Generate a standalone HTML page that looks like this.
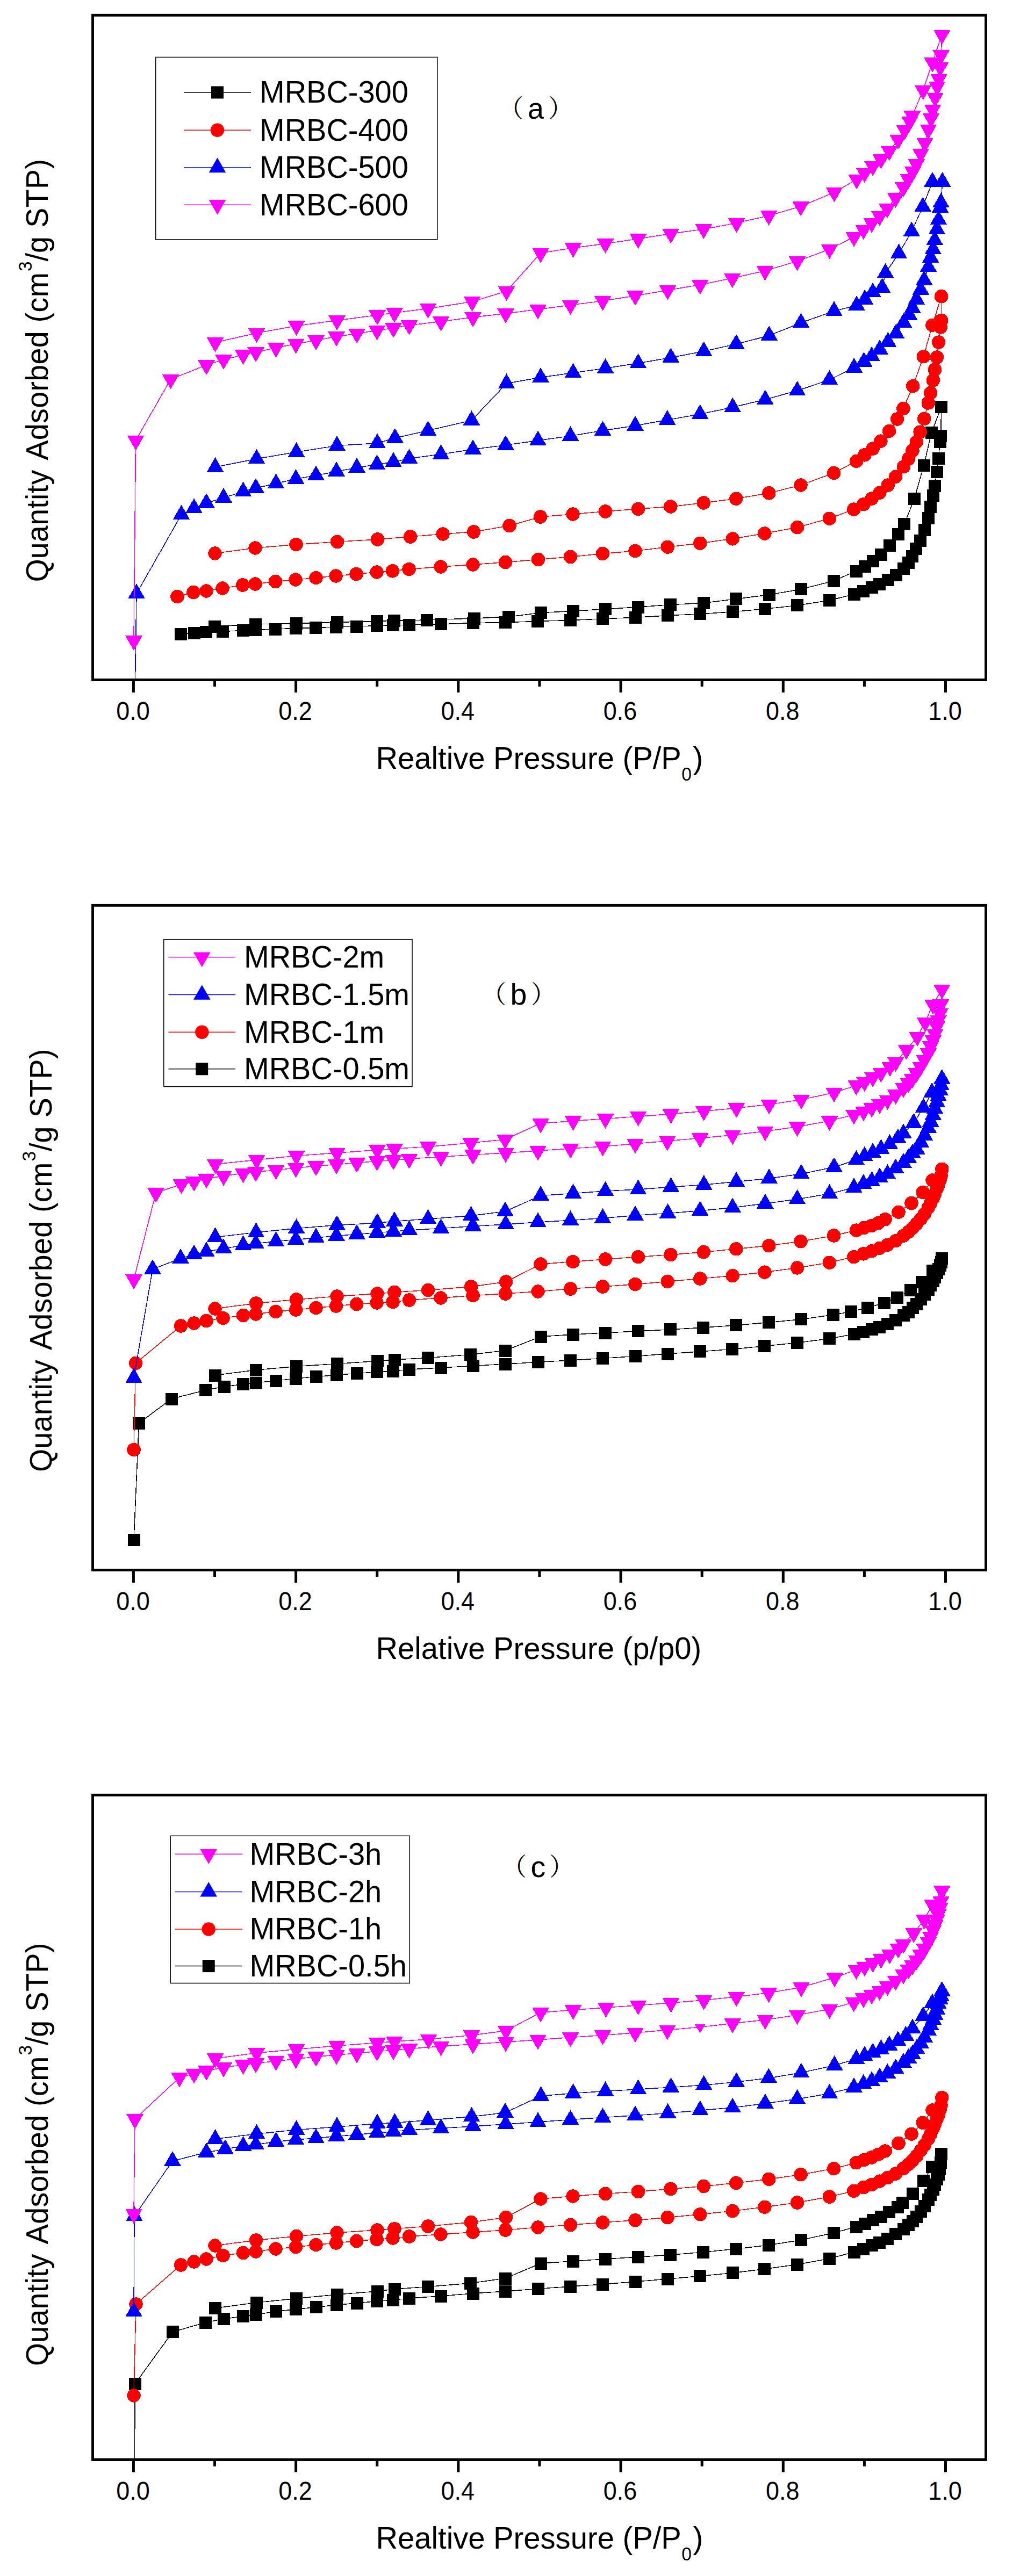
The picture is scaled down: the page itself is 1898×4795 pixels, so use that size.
<!DOCTYPE html>
<html lang="en"><head><meta charset="utf-8"><title>N2 adsorption-desorption isotherms</title>
<style>html,body{margin:0;padding:0;background:#fff}svg{display:block}</style></head>
<body>
<svg width="1898" height="4795" viewBox="0 0 1898 4795">
<rect width="1898" height="4795" fill="#fff"/>
<clipPath id="clip1"><rect x="172.5" y="28.3" width="1662.0" height="1237.2"/></clipPath>
<g clip-path="url(#clip1)" shape-rendering="crispEdges">
<g fill="#000000" stroke="none">
<path d="M336 1180L361 1178L383.5 1176.5L414 1175.5L452 1173.5L475 1172.5L512 1171L550 1169.5L587.5 1168.5L625 1167L663 1166L701 1164.7L731 1163.8L761 1163L820 1161.8L880 1159.6L940.7 1158.7L1000.7 1156.4L1061.2 1154.6L1121.1 1151.9L1182 1149.3L1242.2 1145.8L1302.7 1142.9L1363.2 1138.8L1423.4 1133.5L1483.5 1126.9L1543.6 1117.5L1589.7 1106L1606.8 1100.2L1622.1 1093.8L1636.9 1087.2L1652.2 1079.8L1667.5 1070.1L1681.5 1058.6L1690.4 1047.2L1697.5 1035.7L1704.9 1021.7L1712.8 1006.4L1720.5 986L1727.4 964.3L1731.7 943.2L1736.3 922.3L1739.3 904.4L1743.2 878.2L1746 853.9L1749.5 822.8L1750.8 811.4L1751.6 757.3" fill="none" stroke="#000000" stroke-width="1.5"/>
<path d="M1751.6 757.3L1733.2 805.8L1719.2 866.2L1701.4 928.6L1682.7 975L1671.3 994.4L1655.5 1015.3L1639.4 1032.6L1624.6 1044.1L1609.3 1054L1593 1063L1551 1081.4L1490.5 1096.8L1431.2 1107.1L1369.8 1114.9L1309.3 1122.4L1247.9 1125.6L1187.4 1130L1126.6 1133.8L1066.6 1137.4L1006 1140.6L946 1148.2L882 1151L794 1154L733 1155.2L701.5 1156.5L627 1158.3L551 1160.6L475 1162L399 1166" fill="none" stroke="#000000" stroke-width="1.5"/>
<rect x="324.5" y="1168.5" width="23.0" height="23.0"/>
<rect x="349.5" y="1166.5" width="23.0" height="23.0"/>
<rect x="372" y="1165" width="23.0" height="23.0"/>
<rect x="402.5" y="1164" width="23.0" height="23.0"/>
<rect x="440.5" y="1162" width="23.0" height="23.0"/>
<rect x="463.5" y="1161" width="23.0" height="23.0"/>
<rect x="500.5" y="1159.5" width="23.0" height="23.0"/>
<rect x="538.5" y="1158" width="23.0" height="23.0"/>
<rect x="576" y="1157" width="23.0" height="23.0"/>
<rect x="613.5" y="1155.5" width="23.0" height="23.0"/>
<rect x="651.5" y="1154.5" width="23.0" height="23.0"/>
<rect x="689.5" y="1153.2" width="23.0" height="23.0"/>
<rect x="719.5" y="1152.3" width="23.0" height="23.0"/>
<rect x="749.5" y="1151.5" width="23.0" height="23.0"/>
<rect x="808.5" y="1150.3" width="23.0" height="23.0"/>
<rect x="868.5" y="1148.1" width="23.0" height="23.0"/>
<rect x="929.2" y="1147.2" width="23.0" height="23.0"/>
<rect x="989.2" y="1144.9" width="23.0" height="23.0"/>
<rect x="1049.7" y="1143.1" width="23.0" height="23.0"/>
<rect x="1109.6" y="1140.4" width="23.0" height="23.0"/>
<rect x="1170.5" y="1137.8" width="23.0" height="23.0"/>
<rect x="1230.7" y="1134.3" width="23.0" height="23.0"/>
<rect x="1291.2" y="1131.4" width="23.0" height="23.0"/>
<rect x="1351.7" y="1127.3" width="23.0" height="23.0"/>
<rect x="1411.9" y="1122" width="23.0" height="23.0"/>
<rect x="1472" y="1115.4" width="23.0" height="23.0"/>
<rect x="1532.1" y="1106" width="23.0" height="23.0"/>
<rect x="1578.2" y="1094.5" width="23.0" height="23.0"/>
<rect x="1595.3" y="1088.7" width="23.0" height="23.0"/>
<rect x="1610.6" y="1082.3" width="23.0" height="23.0"/>
<rect x="1625.4" y="1075.7" width="23.0" height="23.0"/>
<rect x="1640.7" y="1068.3" width="23.0" height="23.0"/>
<rect x="1656" y="1058.6" width="23.0" height="23.0"/>
<rect x="1670" y="1047.1" width="23.0" height="23.0"/>
<rect x="1678.9" y="1035.7" width="23.0" height="23.0"/>
<rect x="1686" y="1024.2" width="23.0" height="23.0"/>
<rect x="1693.4" y="1010.2" width="23.0" height="23.0"/>
<rect x="1701.3" y="994.9" width="23.0" height="23.0"/>
<rect x="1709" y="974.5" width="23.0" height="23.0"/>
<rect x="1715.9" y="952.8" width="23.0" height="23.0"/>
<rect x="1720.2" y="931.7" width="23.0" height="23.0"/>
<rect x="1724.8" y="910.8" width="23.0" height="23.0"/>
<rect x="1727.8" y="892.9" width="23.0" height="23.0"/>
<rect x="1731.7" y="866.7" width="23.0" height="23.0"/>
<rect x="1734.5" y="842.4" width="23.0" height="23.0"/>
<rect x="1738" y="811.3" width="23.0" height="23.0"/>
<rect x="1739.3" y="799.9" width="23.0" height="23.0"/>
<rect x="1740.1" y="745.8" width="23.0" height="23.0"/>
<rect x="1740.1" y="745.8" width="23.0" height="23.0"/>
<rect x="1721.7" y="794.3" width="23.0" height="23.0"/>
<rect x="1707.7" y="854.7" width="23.0" height="23.0"/>
<rect x="1689.9" y="917.1" width="23.0" height="23.0"/>
<rect x="1671.2" y="963.5" width="23.0" height="23.0"/>
<rect x="1659.8" y="982.9" width="23.0" height="23.0"/>
<rect x="1644" y="1003.8" width="23.0" height="23.0"/>
<rect x="1627.9" y="1021.1" width="23.0" height="23.0"/>
<rect x="1613.1" y="1032.6" width="23.0" height="23.0"/>
<rect x="1597.8" y="1042.5" width="23.0" height="23.0"/>
<rect x="1581.5" y="1051.5" width="23.0" height="23.0"/>
<rect x="1539.5" y="1069.9" width="23.0" height="23.0"/>
<rect x="1479" y="1085.3" width="23.0" height="23.0"/>
<rect x="1419.7" y="1095.6" width="23.0" height="23.0"/>
<rect x="1358.3" y="1103.4" width="23.0" height="23.0"/>
<rect x="1297.8" y="1110.9" width="23.0" height="23.0"/>
<rect x="1236.4" y="1114.1" width="23.0" height="23.0"/>
<rect x="1175.9" y="1118.5" width="23.0" height="23.0"/>
<rect x="1115.1" y="1122.3" width="23.0" height="23.0"/>
<rect x="1055.1" y="1125.9" width="23.0" height="23.0"/>
<rect x="994.5" y="1129.1" width="23.0" height="23.0"/>
<rect x="934.5" y="1136.7" width="23.0" height="23.0"/>
<rect x="870.5" y="1139.5" width="23.0" height="23.0"/>
<rect x="782.5" y="1142.5" width="23.0" height="23.0"/>
<rect x="721.5" y="1143.7" width="23.0" height="23.0"/>
<rect x="690" y="1145" width="23.0" height="23.0"/>
<rect x="615.5" y="1146.8" width="23.0" height="23.0"/>
<rect x="539.5" y="1149.1" width="23.0" height="23.0"/>
<rect x="463.5" y="1150.5" width="23.0" height="23.0"/>
<rect x="387.5" y="1154.5" width="23.0" height="23.0"/>
</g>
<g fill="#ff0000" stroke="none">
<path d="M330 1110.5L360 1102.5L384 1100L414 1095L451.5 1089L475 1087L512.5 1082.5L550 1079L588 1075.5L625 1072L663 1068.5L701 1065L730.5 1062.8L761 1059.5L820 1055L880 1051L940.5 1046.5L1001.5 1041.5L1061.5 1036.5L1121.5 1030.5L1182 1025.5L1242.2 1018.2L1302.7 1011.2L1363.2 1002.9L1422.9 993L1483.5 981.6L1543.3 965.2L1588.7 948.1L1606.8 938.8L1622.1 928.1L1636.9 917.2L1652.2 903.1L1666.7 887.3L1681.5 868.7L1690.4 854.2L1698 838.7L1705.2 822.7L1712.1 804.1L1719.7 779.4L1727.4 750L1731.7 731.4L1736.3 707.9L1739.6 688L1743.4 665.1L1746.5 637.1L1750.3 609L1751.6 596.3L1751.6 551.7" fill="none" stroke="#ff0000" stroke-width="1.5"/>
<path d="M1751.6 551.7L1735 605.2L1718.4 663.8L1698.8 718.6L1681 760.3L1669.5 780L1654.7 802.4L1638.9 821.1L1624.1 835.1L1608.8 846.9L1593.6 858.4L1551.6 880.5L1490 903L1430.8 917.9L1369.8 928.2L1309.3 936L1247.9 943L1187.5 947.3L1126.5 952L1066 957L1005.5 962L948 978.5L881.5 990L824 994L763.5 999L702.5 1004L627.5 1008.5L551 1013.5L475 1020L400 1030" fill="none" stroke="#ff0000" stroke-width="1.5"/>
<circle cx="330" cy="1110.5" r="12.7"/>
<circle cx="360" cy="1102.5" r="12.7"/>
<circle cx="384" cy="1100" r="12.7"/>
<circle cx="414" cy="1095" r="12.7"/>
<circle cx="451.5" cy="1089" r="12.7"/>
<circle cx="475" cy="1087" r="12.7"/>
<circle cx="512.5" cy="1082.5" r="12.7"/>
<circle cx="550" cy="1079" r="12.7"/>
<circle cx="588" cy="1075.5" r="12.7"/>
<circle cx="625" cy="1072" r="12.7"/>
<circle cx="663" cy="1068.5" r="12.7"/>
<circle cx="701" cy="1065" r="12.7"/>
<circle cx="730.5" cy="1062.8" r="12.7"/>
<circle cx="761" cy="1059.5" r="12.7"/>
<circle cx="820" cy="1055" r="12.7"/>
<circle cx="880" cy="1051" r="12.7"/>
<circle cx="940.5" cy="1046.5" r="12.7"/>
<circle cx="1001.5" cy="1041.5" r="12.7"/>
<circle cx="1061.5" cy="1036.5" r="12.7"/>
<circle cx="1121.5" cy="1030.5" r="12.7"/>
<circle cx="1182" cy="1025.5" r="12.7"/>
<circle cx="1242.2" cy="1018.2" r="12.7"/>
<circle cx="1302.7" cy="1011.2" r="12.7"/>
<circle cx="1363.2" cy="1002.9" r="12.7"/>
<circle cx="1422.9" cy="993" r="12.7"/>
<circle cx="1483.5" cy="981.6" r="12.7"/>
<circle cx="1543.3" cy="965.2" r="12.7"/>
<circle cx="1588.7" cy="948.1" r="12.7"/>
<circle cx="1606.8" cy="938.8" r="12.7"/>
<circle cx="1622.1" cy="928.1" r="12.7"/>
<circle cx="1636.9" cy="917.2" r="12.7"/>
<circle cx="1652.2" cy="903.1" r="12.7"/>
<circle cx="1666.7" cy="887.3" r="12.7"/>
<circle cx="1681.5" cy="868.7" r="12.7"/>
<circle cx="1690.4" cy="854.2" r="12.7"/>
<circle cx="1698" cy="838.7" r="12.7"/>
<circle cx="1705.2" cy="822.7" r="12.7"/>
<circle cx="1712.1" cy="804.1" r="12.7"/>
<circle cx="1719.7" cy="779.4" r="12.7"/>
<circle cx="1727.4" cy="750" r="12.7"/>
<circle cx="1731.7" cy="731.4" r="12.7"/>
<circle cx="1736.3" cy="707.9" r="12.7"/>
<circle cx="1739.6" cy="688" r="12.7"/>
<circle cx="1743.4" cy="665.1" r="12.7"/>
<circle cx="1746.5" cy="637.1" r="12.7"/>
<circle cx="1750.3" cy="609" r="12.7"/>
<circle cx="1751.6" cy="596.3" r="12.7"/>
<circle cx="1751.6" cy="551.7" r="12.7"/>
<circle cx="1751.6" cy="551.7" r="12.7"/>
<circle cx="1735" cy="605.2" r="12.7"/>
<circle cx="1718.4" cy="663.8" r="12.7"/>
<circle cx="1698.8" cy="718.6" r="12.7"/>
<circle cx="1681" cy="760.3" r="12.7"/>
<circle cx="1669.5" cy="780" r="12.7"/>
<circle cx="1654.7" cy="802.4" r="12.7"/>
<circle cx="1638.9" cy="821.1" r="12.7"/>
<circle cx="1624.1" cy="835.1" r="12.7"/>
<circle cx="1608.8" cy="846.9" r="12.7"/>
<circle cx="1593.6" cy="858.4" r="12.7"/>
<circle cx="1551.6" cy="880.5" r="12.7"/>
<circle cx="1490" cy="903" r="12.7"/>
<circle cx="1430.8" cy="917.9" r="12.7"/>
<circle cx="1369.8" cy="928.2" r="12.7"/>
<circle cx="1309.3" cy="936" r="12.7"/>
<circle cx="1247.9" cy="943" r="12.7"/>
<circle cx="1187.5" cy="947.3" r="12.7"/>
<circle cx="1126.5" cy="952" r="12.7"/>
<circle cx="1066" cy="957" r="12.7"/>
<circle cx="1005.5" cy="962" r="12.7"/>
<circle cx="948" cy="978.5" r="12.7"/>
<circle cx="881.5" cy="990" r="12.7"/>
<circle cx="824" cy="994" r="12.7"/>
<circle cx="763.5" cy="999" r="12.7"/>
<circle cx="702.5" cy="1004" r="12.7"/>
<circle cx="627.5" cy="1008.5" r="12.7"/>
<circle cx="551" cy="1013.5" r="12.7"/>
<circle cx="475" cy="1020" r="12.7"/>
<circle cx="400" cy="1030" r="12.7"/>
</g>
<g fill="#0000ff" stroke="none">
<path d="M251 1300L254 1105L337.5 958L361 946L384 936.5L416 926.5L452.5 915L476 908.5L513.5 900L550.5 891.5L588 885L626 877.5L664 870.5L701.5 864.5L732 860L761.5 853.5L820.5 845.5L880 836.5L941 828.5L1001 820L1061.5 811.5L1121.5 801.5L1182 792.4L1241.8 781.6L1302.7 770.9L1363.2 758.1L1423.8 743.7L1483.5 727.2L1543.5 706.9L1589.3 684.4L1607.5 673.3L1622.1 663.1L1636.9 650.3L1652.2 636.3L1667.5 620.5L1681.5 600.6L1691.7 586.6L1698 573.8L1705.2 557.3L1713.3 539.4L1719.7 521.6L1727.4 496.9L1731.7 479.5L1736.3 464.1L1739.3 447L1743.4 427.1L1746.5 409.2L1749.5 386.6L1751 377.2L1753.6 338.4" fill="none" stroke="#0000ff" stroke-width="1.5"/>
<path d="M1753.6 338.4L1735 338.4L1717.2 384.8L1696.3 430.9L1672.6 471.9L1647.6 508.1L1641.5 535.6L1624.1 544L1609.3 557.3L1594 568.7L1552 579L1490.5 600.8L1431.3 624.6L1370 640.5L1309.7 653.9L1248.4 665.5L1187.5 676.2L1126.5 685.5L1066.5 694L1006 702.5L942.5 713.8L877.5 782.5L796.5 801.5L735 815.3L702 825L627 829.5L551.5 841.5L477.5 854L400.5 869.5" fill="none" stroke="#0000ff" stroke-width="1.5"/>
<path d="M235.2 1309.2L266.8 1309.2L251 1281.6z"/>
<path d="M238.2 1114.2L269.8 1114.2L254 1086.6z"/>
<path d="M321.7 967.2L353.3 967.2L337.5 939.6z"/>
<path d="M345.2 955.2L376.8 955.2L361 927.6z"/>
<path d="M368.2 945.7L399.8 945.7L384 918.1z"/>
<path d="M400.2 935.7L431.8 935.7L416 908.1z"/>
<path d="M436.7 924.2L468.3 924.2L452.5 896.6z"/>
<path d="M460.2 917.7L491.8 917.7L476 890.1z"/>
<path d="M497.7 909.2L529.3 909.2L513.5 881.6z"/>
<path d="M534.7 900.7L566.3 900.7L550.5 873.1z"/>
<path d="M572.2 894.2L603.8 894.2L588 866.6z"/>
<path d="M610.2 886.7L641.8 886.7L626 859.1z"/>
<path d="M648.2 879.7L679.8 879.7L664 852.1z"/>
<path d="M685.7 873.7L717.3 873.7L701.5 846.1z"/>
<path d="M716.2 869.2L747.8 869.2L732 841.6z"/>
<path d="M745.7 862.7L777.3 862.7L761.5 835.1z"/>
<path d="M804.7 854.7L836.3 854.7L820.5 827.1z"/>
<path d="M864.2 845.7L895.8 845.7L880 818.1z"/>
<path d="M925.2 837.7L956.8 837.7L941 810.1z"/>
<path d="M985.2 829.2L1016.8 829.2L1001 801.6z"/>
<path d="M1045.7 820.7L1077.3 820.7L1061.5 793.1z"/>
<path d="M1105.7 810.7L1137.3 810.7L1121.5 783.1z"/>
<path d="M1166.2 801.6L1197.8 801.6L1182 774z"/>
<path d="M1226 790.8L1257.6 790.8L1241.8 763.2z"/>
<path d="M1286.9 780.1L1318.5 780.1L1302.7 752.5z"/>
<path d="M1347.4 767.3L1379 767.3L1363.2 739.7z"/>
<path d="M1408 752.9L1439.6 752.9L1423.8 725.3z"/>
<path d="M1467.7 736.4L1499.3 736.4L1483.5 708.8z"/>
<path d="M1527.7 716.1L1559.3 716.1L1543.5 688.5z"/>
<path d="M1573.5 693.6L1605.1 693.6L1589.3 666z"/>
<path d="M1591.7 682.5L1623.3 682.5L1607.5 654.9z"/>
<path d="M1606.3 672.3L1637.9 672.3L1622.1 644.7z"/>
<path d="M1621.1 659.5L1652.7 659.5L1636.9 631.9z"/>
<path d="M1636.4 645.5L1668 645.5L1652.2 617.9z"/>
<path d="M1651.7 629.7L1683.3 629.7L1667.5 602.1z"/>
<path d="M1665.7 609.8L1697.3 609.8L1681.5 582.2z"/>
<path d="M1675.9 595.8L1707.5 595.8L1691.7 568.2z"/>
<path d="M1682.2 583L1713.8 583L1698 555.4z"/>
<path d="M1689.4 566.5L1721 566.5L1705.2 538.9z"/>
<path d="M1697.5 548.6L1729.1 548.6L1713.3 521z"/>
<path d="M1703.9 530.8L1735.5 530.8L1719.7 503.2z"/>
<path d="M1711.6 506.1L1743.2 506.1L1727.4 478.5z"/>
<path d="M1715.9 488.7L1747.5 488.7L1731.7 461.1z"/>
<path d="M1720.5 473.3L1752.1 473.3L1736.3 445.7z"/>
<path d="M1723.5 456.2L1755.1 456.2L1739.3 428.6z"/>
<path d="M1727.6 436.3L1759.2 436.3L1743.4 408.7z"/>
<path d="M1730.7 418.4L1762.3 418.4L1746.5 390.8z"/>
<path d="M1733.7 395.8L1765.3 395.8L1749.5 368.2z"/>
<path d="M1735.2 386.4L1766.8 386.4L1751 358.8z"/>
<path d="M1737.8 347.6L1769.4 347.6L1753.6 320z"/>
<path d="M1737.8 347.6L1769.4 347.6L1753.6 320z"/>
<path d="M1719.2 347.6L1750.8 347.6L1735 320z"/>
<path d="M1701.4 394L1733 394L1717.2 366.4z"/>
<path d="M1680.5 440.1L1712.1 440.1L1696.3 412.5z"/>
<path d="M1656.8 481.1L1688.4 481.1L1672.6 453.5z"/>
<path d="M1631.8 517.3L1663.4 517.3L1647.6 489.7z"/>
<path d="M1625.7 544.8L1657.3 544.8L1641.5 517.2z"/>
<path d="M1608.3 553.2L1639.9 553.2L1624.1 525.6z"/>
<path d="M1593.5 566.5L1625.1 566.5L1609.3 538.9z"/>
<path d="M1578.2 577.9L1609.8 577.9L1594 550.3z"/>
<path d="M1536.2 588.2L1567.8 588.2L1552 560.6z"/>
<path d="M1474.7 610L1506.3 610L1490.5 582.4z"/>
<path d="M1415.5 633.8L1447.1 633.8L1431.3 606.2z"/>
<path d="M1354.2 649.7L1385.8 649.7L1370 622.1z"/>
<path d="M1293.9 663.1L1325.5 663.1L1309.7 635.5z"/>
<path d="M1232.6 674.7L1264.2 674.7L1248.4 647.1z"/>
<path d="M1171.7 685.4L1203.3 685.4L1187.5 657.8z"/>
<path d="M1110.7 694.7L1142.3 694.7L1126.5 667.1z"/>
<path d="M1050.7 703.2L1082.3 703.2L1066.5 675.6z"/>
<path d="M990.2 711.7L1021.8 711.7L1006 684.1z"/>
<path d="M926.7 723L958.3 723L942.5 695.4z"/>
<path d="M861.7 791.7L893.3 791.7L877.5 764.1z"/>
<path d="M780.7 810.7L812.3 810.7L796.5 783.1z"/>
<path d="M719.2 824.5L750.8 824.5L735 796.9z"/>
<path d="M686.2 834.2L717.8 834.2L702 806.6z"/>
<path d="M611.2 838.7L642.8 838.7L627 811.1z"/>
<path d="M535.7 850.7L567.3 850.7L551.5 823.1z"/>
<path d="M461.7 863.2L493.3 863.2L477.5 835.6z"/>
<path d="M384.7 878.7L416.3 878.7L400.5 851.1z"/>
</g>
<g fill="#ff00ff" stroke="none">
<path d="M249 1192.5L252.5 820L317.5 706L384 679.5L416 669.5L452.5 660.5L476 655.5L513.5 647.5L550.5 640L588 633.5L626 626.5L664 621L701.5 615L732 610.5L761.5 605.5L820.5 598.5L880 590.5L941 583.5L1001 576L1061.5 568L1121.5 560L1182 550.5L1242.4 540.2L1302.7 530L1362.7 517.8L1423.5 504.1L1483.5 486.1L1543.5 464L1589 441L1606.8 427.7L1622.1 415.2L1636.9 402.4L1650.9 388.1L1666.7 368.5L1681 348.6L1690.4 333.6L1698.6 319.3L1705.2 305.6L1713.3 285.7L1721 265.8L1727.4 241.1L1732.5 219.9L1735.5 204.1L1740.1 181.7L1743.9 160.8L1747 146.7L1749.5 125.1L1751.1 102.6L1752.8 64.7" fill="none" stroke="#ff00ff" stroke-width="1.5"/>
<path d="M1752.8 64.7L1735 116.2L1717.7 167.9L1697.5 215.6L1692.9 225.8L1683.5 242.3L1671.3 260.2L1654.7 281.1L1639.4 296.4L1624.1 309.4L1608.8 321.9L1594 333.8L1552.4 358L1490.2 384.1L1430.6 401.4L1370.6 415.1L1309.4 426.5L1248.2 435.1L1187.5 444.5L1126.5 453.5L1066.5 461.5L1006 471L942.5 542L878.5 561.5L796.5 574.5L734 582.3L702 586.5L627 596.5L551.5 606.5L477.5 620L400.5 637.5" fill="none" stroke="#ff00ff" stroke-width="1.5"/>
<path d="M233.2 1183.3L264.8 1183.3L249 1210.9z"/>
<path d="M236.7 810.8L268.3 810.8L252.5 838.4z"/>
<path d="M301.7 696.8L333.3 696.8L317.5 724.4z"/>
<path d="M368.2 670.3L399.8 670.3L384 697.9z"/>
<path d="M400.2 660.3L431.8 660.3L416 687.9z"/>
<path d="M436.7 651.3L468.3 651.3L452.5 678.9z"/>
<path d="M460.2 646.3L491.8 646.3L476 673.9z"/>
<path d="M497.7 638.3L529.3 638.3L513.5 665.9z"/>
<path d="M534.7 630.8L566.3 630.8L550.5 658.4z"/>
<path d="M572.2 624.3L603.8 624.3L588 651.9z"/>
<path d="M610.2 617.3L641.8 617.3L626 644.9z"/>
<path d="M648.2 611.8L679.8 611.8L664 639.4z"/>
<path d="M685.7 605.8L717.3 605.8L701.5 633.4z"/>
<path d="M716.2 601.3L747.8 601.3L732 628.9z"/>
<path d="M745.7 596.3L777.3 596.3L761.5 623.9z"/>
<path d="M804.7 589.3L836.3 589.3L820.5 616.9z"/>
<path d="M864.2 581.3L895.8 581.3L880 608.9z"/>
<path d="M925.2 574.3L956.8 574.3L941 601.9z"/>
<path d="M985.2 566.8L1016.8 566.8L1001 594.4z"/>
<path d="M1045.7 558.8L1077.3 558.8L1061.5 586.4z"/>
<path d="M1105.7 550.8L1137.3 550.8L1121.5 578.4z"/>
<path d="M1166.2 541.3L1197.8 541.3L1182 568.9z"/>
<path d="M1226.6 531L1258.2 531L1242.4 558.6z"/>
<path d="M1286.9 520.8L1318.5 520.8L1302.7 548.4z"/>
<path d="M1346.9 508.6L1378.5 508.6L1362.7 536.2z"/>
<path d="M1407.7 494.9L1439.3 494.9L1423.5 522.5z"/>
<path d="M1467.7 476.9L1499.3 476.9L1483.5 504.5z"/>
<path d="M1527.7 454.8L1559.3 454.8L1543.5 482.4z"/>
<path d="M1573.2 431.8L1604.8 431.8L1589 459.4z"/>
<path d="M1591 418.5L1622.6 418.5L1606.8 446.1z"/>
<path d="M1606.3 406L1637.9 406L1622.1 433.6z"/>
<path d="M1621.1 393.2L1652.7 393.2L1636.9 420.8z"/>
<path d="M1635.1 378.9L1666.7 378.9L1650.9 406.5z"/>
<path d="M1650.9 359.3L1682.5 359.3L1666.7 386.9z"/>
<path d="M1665.2 339.4L1696.8 339.4L1681 367z"/>
<path d="M1674.6 324.4L1706.2 324.4L1690.4 352z"/>
<path d="M1682.8 310.1L1714.4 310.1L1698.6 337.7z"/>
<path d="M1689.4 296.4L1721 296.4L1705.2 324z"/>
<path d="M1697.5 276.5L1729.1 276.5L1713.3 304.1z"/>
<path d="M1705.2 256.6L1736.8 256.6L1721 284.2z"/>
<path d="M1711.6 231.9L1743.2 231.9L1727.4 259.5z"/>
<path d="M1716.7 210.7L1748.3 210.7L1732.5 238.3z"/>
<path d="M1719.7 194.9L1751.3 194.9L1735.5 222.5z"/>
<path d="M1724.3 172.5L1755.9 172.5L1740.1 200.1z"/>
<path d="M1728.1 151.6L1759.7 151.6L1743.9 179.2z"/>
<path d="M1731.2 137.5L1762.8 137.5L1747 165.1z"/>
<path d="M1733.7 115.9L1765.3 115.9L1749.5 143.5z"/>
<path d="M1735.3 93.4L1766.9 93.4L1751.1 121z"/>
<path d="M1737 55.5L1768.6 55.5L1752.8 83.1z"/>
<path d="M1737 55.5L1768.6 55.5L1752.8 83.1z"/>
<path d="M1719.2 107L1750.8 107L1735 134.6z"/>
<path d="M1701.9 158.7L1733.5 158.7L1717.7 186.3z"/>
<path d="M1681.7 206.4L1713.3 206.4L1697.5 234z"/>
<path d="M1677.1 216.6L1708.7 216.6L1692.9 244.2z"/>
<path d="M1667.7 233.1L1699.3 233.1L1683.5 260.7z"/>
<path d="M1655.5 251L1687.1 251L1671.3 278.6z"/>
<path d="M1638.9 271.9L1670.5 271.9L1654.7 299.5z"/>
<path d="M1623.6 287.2L1655.2 287.2L1639.4 314.8z"/>
<path d="M1608.3 300.2L1639.9 300.2L1624.1 327.8z"/>
<path d="M1593 312.7L1624.6 312.7L1608.8 340.3z"/>
<path d="M1578.2 324.6L1609.8 324.6L1594 352.2z"/>
<path d="M1536.6 348.8L1568.2 348.8L1552.4 376.4z"/>
<path d="M1474.4 374.9L1506 374.9L1490.2 402.5z"/>
<path d="M1414.8 392.2L1446.4 392.2L1430.6 419.8z"/>
<path d="M1354.8 405.9L1386.4 405.9L1370.6 433.5z"/>
<path d="M1293.6 417.3L1325.2 417.3L1309.4 444.9z"/>
<path d="M1232.4 425.9L1264 425.9L1248.2 453.5z"/>
<path d="M1171.7 435.3L1203.3 435.3L1187.5 462.9z"/>
<path d="M1110.7 444.3L1142.3 444.3L1126.5 471.9z"/>
<path d="M1050.7 452.3L1082.3 452.3L1066.5 479.9z"/>
<path d="M990.2 461.8L1021.8 461.8L1006 489.4z"/>
<path d="M926.7 532.8L958.3 532.8L942.5 560.4z"/>
<path d="M862.7 552.3L894.3 552.3L878.5 579.9z"/>
<path d="M780.7 565.3L812.3 565.3L796.5 592.9z"/>
<path d="M718.2 573.1L749.8 573.1L734 600.7z"/>
<path d="M686.2 577.3L717.8 577.3L702 604.9z"/>
<path d="M611.2 587.3L642.8 587.3L627 614.9z"/>
<path d="M535.7 597.3L567.3 597.3L551.5 624.9z"/>
<path d="M461.7 610.8L493.3 610.8L477.5 638.4z"/>
<path d="M384.7 628.3L416.3 628.3L400.5 655.9z"/>
</g>
</g>
<rect x="172.5" y="28.3" width="1662.0" height="1237.2" fill="none" stroke="#000" stroke-width="4.9"/>
<path d="M248.4 1265.5V1289M399.5 1265.5V1278M550.6 1265.5V1289M701.7 1265.5V1278M852.8 1265.5V1289M1003.9 1265.5V1278M1155.1 1265.5V1289M1306.2 1265.5V1278M1457.3 1265.5V1289M1608.4 1265.5V1278M1759.5 1265.5V1289" stroke="#000" stroke-width="5" fill="none"/>
<g font-family="'Liberation Sans', Arial, sans-serif" font-size="45" text-anchor="middle" fill="#000">
<text transform="translate(247.4 1340) scale(1 1.075)">0.0</text>
<text transform="translate(549.6 1340) scale(1 1.075)">0.2</text>
<text transform="translate(851.8 1340) scale(1 1.075)">0.4</text>
<text transform="translate(1154.1 1340) scale(1 1.075)">0.6</text>
<text transform="translate(1456.3 1340) scale(1 1.075)">0.8</text>
<text transform="translate(1758.5 1340) scale(1 1.075)">1.0</text>
</g>
<text transform="translate(699.5 1431.3) scale(1 1.02)" font-family="'Liberation Sans', Arial, sans-serif" font-size="56.2" fill="#000">Realtive Pressure (P/P<tspan font-size="33.7" dx="0.5" dy="20.8">0</tspan><tspan dx="2.5" dy="-20.8">)</tspan></text>
<text transform="translate(89 1083.6) rotate(-90) scale(1 1.05)" font-family="'Liberation Sans', Arial, sans-serif" font-size="55.5" fill="#000"><tspan letter-spacing="0.3">Quantity</tspan> <tspan dx="2.5" letter-spacing="0.4">Adsorbed</tspan> <tspan letter-spacing="0.5">(cm</tspan><tspan font-size="33.3" dx="1.5" dy="-28.3">3</tspan><tspan dy="28.3">/g <tspan dx="1" letter-spacing="0.5">STP)</tspan></tspan></text>
<g fill="#000"><text x="928" y="217" font-family="'Liberation Serif', 'Noto Serif CJK SC', serif" font-size="46">（</text><text x="982" y="221" font-family="'Liberation Sans', Arial, sans-serif" font-size="55.5" transform="translate(982 0) scale(0.97 1) translate(-982 0)">a</text><text x="1020" y="217" font-family="'Liberation Serif', 'Noto Serif CJK SC', serif" font-size="46">）</text></g>
<rect x="289.7" y="106.5" width="524.0999999999999" height="339.4" fill="#fff" stroke="#000" stroke-width="1.5"/>
<path d="M342 172H467" stroke="#000000" stroke-width="1.5"/>
<g fill="#000000"><rect x="393" y="160.5" width="23.0" height="23.0"/></g>
<text transform="translate(483 191.2) scale(1 1.03)" font-family="'Liberation Sans', Arial, sans-serif" font-size="56" fill="#000">MRBC-300</text>
<path d="M342 242.3H467" stroke="#ff0000" stroke-width="1.5"/>
<g fill="#ff0000"><circle cx="404.5" cy="242.3" r="12.7"/></g>
<text transform="translate(483 261.5) scale(1 1.03)" font-family="'Liberation Sans', Arial, sans-serif" font-size="56" fill="#000">MRBC-400</text>
<path d="M342 312H467" stroke="#0000ff" stroke-width="1.5"/>
<g fill="#0000ff"><path d="M388.7 321.2L420.3 321.2L404.5 293.6z"/></g>
<text transform="translate(483 331.2) scale(1 1.03)" font-family="'Liberation Sans', Arial, sans-serif" font-size="56" fill="#000">MRBC-500</text>
<path d="M342 381.3H467" stroke="#ff00ff" stroke-width="1.5"/>
<g fill="#ff00ff"><path d="M388.7 372.1L420.3 372.1L404.5 399.7z"/></g>
<text transform="translate(483 400.5) scale(1 1.03)" font-family="'Liberation Sans', Arial, sans-serif" font-size="56" fill="#000">MRBC-600</text>
<clipPath id="clip2"><rect x="172.5" y="1685.3" width="1662.0" height="1237.2"/></clipPath>
<g clip-path="url(#clip2)" shape-rendering="crispEdges">
<g fill="#000000" stroke="none">
<path d="M249 2866L258.5 2649L319 2604L382.5 2587.5L417.5 2581L452.5 2576.5L476 2574L513.5 2570L550.5 2566L588 2562.5L626 2559.5L664 2556.5L701.5 2553.8L731 2552.3L761.5 2549L820 2546L880 2542.5L940.5 2539L1001 2535.5L1061.5 2532L1121.5 2528.5L1182 2524.5L1242.2 2520L1302.7 2515.9L1362.4 2511.4L1422.9 2505.6L1483 2499.5L1543.3 2491.8L1589.3 2483.3L1606.8 2479.2L1622.1 2474.6L1636.9 2470.3L1651.4 2464.4L1666.7 2457.6L1681 2448.6L1690.4 2442.3L1698 2434.6L1705.7 2427L1713.3 2418L1720.5 2409.1L1727.4 2400.2L1731.7 2392.6L1736.3 2384.9L1739.6 2377.3L1743.2 2369.6L1746 2362.5L1749 2355.6L1751.1 2349.7L1752.8 2342.8" fill="none" stroke="#000000" stroke-width="1.5"/>
<path d="M1752.8 2342.8L1735 2365L1715.4 2386.2L1694.2 2401.5L1669.5 2415L1645 2425.2L1614.7 2434.1L1583.4 2441.5L1550 2447.5L1490.5 2455.8L1430.4 2461.6L1369.8 2466.9L1308.9 2471.1L1247.9 2474.8L1187.4 2477.8L1126.5 2481L1066.5 2484L1006 2488L940 2514L875 2521.5L796.5 2527.5L734 2531L702 2533.5L627 2538.5L551.5 2543.5L476.5 2550L400 2560" fill="none" stroke="#000000" stroke-width="1.5"/>
<rect x="237.5" y="2854.5" width="23.0" height="23.0"/>
<rect x="247" y="2637.5" width="23.0" height="23.0"/>
<rect x="307.5" y="2592.5" width="23.0" height="23.0"/>
<rect x="371" y="2576" width="23.0" height="23.0"/>
<rect x="406" y="2569.5" width="23.0" height="23.0"/>
<rect x="441" y="2565" width="23.0" height="23.0"/>
<rect x="464.5" y="2562.5" width="23.0" height="23.0"/>
<rect x="502" y="2558.5" width="23.0" height="23.0"/>
<rect x="539" y="2554.5" width="23.0" height="23.0"/>
<rect x="576.5" y="2551" width="23.0" height="23.0"/>
<rect x="614.5" y="2548" width="23.0" height="23.0"/>
<rect x="652.5" y="2545" width="23.0" height="23.0"/>
<rect x="690" y="2542.3" width="23.0" height="23.0"/>
<rect x="719.5" y="2540.8" width="23.0" height="23.0"/>
<rect x="750" y="2537.5" width="23.0" height="23.0"/>
<rect x="808.5" y="2534.5" width="23.0" height="23.0"/>
<rect x="868.5" y="2531" width="23.0" height="23.0"/>
<rect x="929" y="2527.5" width="23.0" height="23.0"/>
<rect x="989.5" y="2524" width="23.0" height="23.0"/>
<rect x="1050" y="2520.5" width="23.0" height="23.0"/>
<rect x="1110" y="2517" width="23.0" height="23.0"/>
<rect x="1170.5" y="2513" width="23.0" height="23.0"/>
<rect x="1230.7" y="2508.5" width="23.0" height="23.0"/>
<rect x="1291.2" y="2504.4" width="23.0" height="23.0"/>
<rect x="1350.9" y="2499.9" width="23.0" height="23.0"/>
<rect x="1411.4" y="2494.1" width="23.0" height="23.0"/>
<rect x="1471.5" y="2488" width="23.0" height="23.0"/>
<rect x="1531.8" y="2480.3" width="23.0" height="23.0"/>
<rect x="1577.8" y="2471.8" width="23.0" height="23.0"/>
<rect x="1595.3" y="2467.7" width="23.0" height="23.0"/>
<rect x="1610.6" y="2463.1" width="23.0" height="23.0"/>
<rect x="1625.4" y="2458.8" width="23.0" height="23.0"/>
<rect x="1639.9" y="2452.9" width="23.0" height="23.0"/>
<rect x="1655.2" y="2446.1" width="23.0" height="23.0"/>
<rect x="1669.5" y="2437.1" width="23.0" height="23.0"/>
<rect x="1678.9" y="2430.8" width="23.0" height="23.0"/>
<rect x="1686.5" y="2423.1" width="23.0" height="23.0"/>
<rect x="1694.2" y="2415.5" width="23.0" height="23.0"/>
<rect x="1701.8" y="2406.5" width="23.0" height="23.0"/>
<rect x="1709" y="2397.6" width="23.0" height="23.0"/>
<rect x="1715.9" y="2388.7" width="23.0" height="23.0"/>
<rect x="1720.2" y="2381.1" width="23.0" height="23.0"/>
<rect x="1724.8" y="2373.4" width="23.0" height="23.0"/>
<rect x="1728.1" y="2365.8" width="23.0" height="23.0"/>
<rect x="1731.7" y="2358.1" width="23.0" height="23.0"/>
<rect x="1734.5" y="2351" width="23.0" height="23.0"/>
<rect x="1737.5" y="2344.1" width="23.0" height="23.0"/>
<rect x="1739.6" y="2338.2" width="23.0" height="23.0"/>
<rect x="1741.3" y="2331.3" width="23.0" height="23.0"/>
<rect x="1741.3" y="2331.3" width="23.0" height="23.0"/>
<rect x="1723.5" y="2353.5" width="23.0" height="23.0"/>
<rect x="1703.9" y="2374.7" width="23.0" height="23.0"/>
<rect x="1682.7" y="2390" width="23.0" height="23.0"/>
<rect x="1658" y="2403.5" width="23.0" height="23.0"/>
<rect x="1633.5" y="2413.7" width="23.0" height="23.0"/>
<rect x="1603.2" y="2422.6" width="23.0" height="23.0"/>
<rect x="1571.9" y="2430" width="23.0" height="23.0"/>
<rect x="1538.5" y="2436" width="23.0" height="23.0"/>
<rect x="1479" y="2444.3" width="23.0" height="23.0"/>
<rect x="1418.9" y="2450.1" width="23.0" height="23.0"/>
<rect x="1358.3" y="2455.4" width="23.0" height="23.0"/>
<rect x="1297.4" y="2459.6" width="23.0" height="23.0"/>
<rect x="1236.4" y="2463.3" width="23.0" height="23.0"/>
<rect x="1175.9" y="2466.3" width="23.0" height="23.0"/>
<rect x="1115" y="2469.5" width="23.0" height="23.0"/>
<rect x="1055" y="2472.5" width="23.0" height="23.0"/>
<rect x="994.5" y="2476.5" width="23.0" height="23.0"/>
<rect x="928.5" y="2502.5" width="23.0" height="23.0"/>
<rect x="863.5" y="2510" width="23.0" height="23.0"/>
<rect x="785" y="2516" width="23.0" height="23.0"/>
<rect x="722.5" y="2519.5" width="23.0" height="23.0"/>
<rect x="690.5" y="2522" width="23.0" height="23.0"/>
<rect x="615.5" y="2527" width="23.0" height="23.0"/>
<rect x="540" y="2532" width="23.0" height="23.0"/>
<rect x="465" y="2538.5" width="23.0" height="23.0"/>
<rect x="388.5" y="2548.5" width="23.0" height="23.0"/>
</g>
<g fill="#ff0000" stroke="none">
<path d="M249 2698.5L252.5 2537.5L336.5 2468L361 2463L384 2458.5L415 2453.5L452.5 2448.5L476 2446L513 2441.5L550.5 2438L588 2434.5L625.5 2431L663.5 2427.5L701 2425L731 2423.5L761.5 2420L820 2416L880 2411.5L940.5 2408L1001 2404L1061.5 2399L1121.5 2395L1182 2390.6L1242.2 2385.4L1302.7 2380.1L1363.2 2374.7L1422.9 2368.1L1483.5 2359.9L1543.3 2350.2L1588.7 2339.6L1606.8 2333.9L1622.1 2328.8L1636.9 2323.2L1651.4 2317.4L1666.7 2309.7L1681 2300.3L1690.4 2293.1L1698 2286L1705.7 2277.8L1713.3 2268.9L1720.5 2259.5L1727.4 2247.8L1731.7 2239.6L1736.3 2230.7L1739.6 2222.3L1743.2 2212.8L1746 2205.2L1749 2196.8L1751.1 2188.6L1752.8 2176.3" fill="none" stroke="#ff0000" stroke-width="1.5"/>
<path d="M1752.8 2176.3L1735 2197L1717.2 2219.5L1696 2239.4L1672 2256.2L1647.1 2269.7L1634.3 2276.6L1621.6 2281.7L1607.5 2285.5L1593.3 2290.1L1551.6 2300L1490 2310.8L1430.8 2318.6L1369.8 2324.8L1309.3 2330.6L1247.9 2335.5L1187.5 2339.7L1126.5 2344L1066 2348.5L1006 2353L941.5 2386L876.5 2395L796.5 2401.5L734 2405.3L702 2408L627 2413L551.5 2419L476.5 2426L400 2436" fill="none" stroke="#ff0000" stroke-width="1.5"/>
<circle cx="249" cy="2698.5" r="12.7"/>
<circle cx="252.5" cy="2537.5" r="12.7"/>
<circle cx="336.5" cy="2468" r="12.7"/>
<circle cx="361" cy="2463" r="12.7"/>
<circle cx="384" cy="2458.5" r="12.7"/>
<circle cx="415" cy="2453.5" r="12.7"/>
<circle cx="452.5" cy="2448.5" r="12.7"/>
<circle cx="476" cy="2446" r="12.7"/>
<circle cx="513" cy="2441.5" r="12.7"/>
<circle cx="550.5" cy="2438" r="12.7"/>
<circle cx="588" cy="2434.5" r="12.7"/>
<circle cx="625.5" cy="2431" r="12.7"/>
<circle cx="663.5" cy="2427.5" r="12.7"/>
<circle cx="701" cy="2425" r="12.7"/>
<circle cx="731" cy="2423.5" r="12.7"/>
<circle cx="761.5" cy="2420" r="12.7"/>
<circle cx="820" cy="2416" r="12.7"/>
<circle cx="880" cy="2411.5" r="12.7"/>
<circle cx="940.5" cy="2408" r="12.7"/>
<circle cx="1001" cy="2404" r="12.7"/>
<circle cx="1061.5" cy="2399" r="12.7"/>
<circle cx="1121.5" cy="2395" r="12.7"/>
<circle cx="1182" cy="2390.6" r="12.7"/>
<circle cx="1242.2" cy="2385.4" r="12.7"/>
<circle cx="1302.7" cy="2380.1" r="12.7"/>
<circle cx="1363.2" cy="2374.7" r="12.7"/>
<circle cx="1422.9" cy="2368.1" r="12.7"/>
<circle cx="1483.5" cy="2359.9" r="12.7"/>
<circle cx="1543.3" cy="2350.2" r="12.7"/>
<circle cx="1588.7" cy="2339.6" r="12.7"/>
<circle cx="1606.8" cy="2333.9" r="12.7"/>
<circle cx="1622.1" cy="2328.8" r="12.7"/>
<circle cx="1636.9" cy="2323.2" r="12.7"/>
<circle cx="1651.4" cy="2317.4" r="12.7"/>
<circle cx="1666.7" cy="2309.7" r="12.7"/>
<circle cx="1681" cy="2300.3" r="12.7"/>
<circle cx="1690.4" cy="2293.1" r="12.7"/>
<circle cx="1698" cy="2286" r="12.7"/>
<circle cx="1705.7" cy="2277.8" r="12.7"/>
<circle cx="1713.3" cy="2268.9" r="12.7"/>
<circle cx="1720.5" cy="2259.5" r="12.7"/>
<circle cx="1727.4" cy="2247.8" r="12.7"/>
<circle cx="1731.7" cy="2239.6" r="12.7"/>
<circle cx="1736.3" cy="2230.7" r="12.7"/>
<circle cx="1739.6" cy="2222.3" r="12.7"/>
<circle cx="1743.2" cy="2212.8" r="12.7"/>
<circle cx="1746" cy="2205.2" r="12.7"/>
<circle cx="1749" cy="2196.8" r="12.7"/>
<circle cx="1751.1" cy="2188.6" r="12.7"/>
<circle cx="1752.8" cy="2176.3" r="12.7"/>
<circle cx="1752.8" cy="2176.3" r="12.7"/>
<circle cx="1735" cy="2197" r="12.7"/>
<circle cx="1717.2" cy="2219.5" r="12.7"/>
<circle cx="1696" cy="2239.4" r="12.7"/>
<circle cx="1672" cy="2256.2" r="12.7"/>
<circle cx="1647.1" cy="2269.7" r="12.7"/>
<circle cx="1634.3" cy="2276.6" r="12.7"/>
<circle cx="1621.6" cy="2281.7" r="12.7"/>
<circle cx="1607.5" cy="2285.5" r="12.7"/>
<circle cx="1593.3" cy="2290.1" r="12.7"/>
<circle cx="1551.6" cy="2300" r="12.7"/>
<circle cx="1490" cy="2310.8" r="12.7"/>
<circle cx="1430.8" cy="2318.6" r="12.7"/>
<circle cx="1369.8" cy="2324.8" r="12.7"/>
<circle cx="1309.3" cy="2330.6" r="12.7"/>
<circle cx="1247.9" cy="2335.5" r="12.7"/>
<circle cx="1187.5" cy="2339.7" r="12.7"/>
<circle cx="1126.5" cy="2344" r="12.7"/>
<circle cx="1066" cy="2348.5" r="12.7"/>
<circle cx="1006" cy="2353" r="12.7"/>
<circle cx="941.5" cy="2386" r="12.7"/>
<circle cx="876.5" cy="2395" r="12.7"/>
<circle cx="796.5" cy="2401.5" r="12.7"/>
<circle cx="734" cy="2405.3" r="12.7"/>
<circle cx="702" cy="2408" r="12.7"/>
<circle cx="627" cy="2413" r="12.7"/>
<circle cx="551.5" cy="2419" r="12.7"/>
<circle cx="476.5" cy="2426" r="12.7"/>
<circle cx="400" cy="2436" r="12.7"/>
</g>
<g fill="#0000ff" stroke="none">
<path d="M249 2565L284 2362.5L336 2342.5L361 2335L384 2330L416 2324L452.5 2318L476 2315L513.5 2310.5L550.5 2307.5L588 2304L626 2300.5L664 2297.5L701.5 2294.5L732 2292.3L761.5 2290L820.5 2286.5L880 2282.5L941 2279L1001 2275L1061.5 2271.5L1121.5 2267.5L1182 2262.4L1242.6 2258.5L1302.7 2253.6L1363.2 2247.8L1423.8 2240.4L1483.5 2232.2L1543.5 2222L1588.9 2210.8L1606.8 2203.5L1622.1 2198.4L1636.9 2191.5L1651.4 2185.2L1666.7 2175L1681 2164.8L1690.4 2155.8L1698 2146.9L1705.7 2139.3L1713.3 2126.5L1720.5 2113.8L1727.4 2099.8L1731.7 2088.3L1736.3 2075.6L1739.6 2064.1L1743.2 2051.3L1746 2039.9L1749 2029.7L1750.8 2019.5L1752.8 2008.5" fill="none" stroke="#0000ff" stroke-width="1.5"/>
<path d="M1752.8 2008.5L1734.2 2033.5L1718.4 2062L1700.1 2090.3L1681 2110L1670.8 2118.9L1655.5 2129.8L1639.4 2138.5L1624.1 2145.7L1608.8 2152L1593.3 2159.2L1552 2172.4L1490.9 2185.2L1431.2 2193.5L1370.2 2199.6L1309.7 2205.4L1248.4 2209.5L1187.5 2214L1126.5 2217L1066.5 2221.5L1006 2225.5L940 2255L876.5 2263L796.5 2269L734 2273.3L702 2276.5L627 2280.5L551.5 2286.5L476.5 2294L400.5 2303" fill="none" stroke="#0000ff" stroke-width="1.5"/>
<path d="M233.2 2574.2L264.8 2574.2L249 2546.6z"/>
<path d="M268.2 2371.7L299.8 2371.7L284 2344.1z"/>
<path d="M320.2 2351.7L351.8 2351.7L336 2324.1z"/>
<path d="M345.2 2344.2L376.8 2344.2L361 2316.6z"/>
<path d="M368.2 2339.2L399.8 2339.2L384 2311.6z"/>
<path d="M400.2 2333.2L431.8 2333.2L416 2305.6z"/>
<path d="M436.7 2327.2L468.3 2327.2L452.5 2299.6z"/>
<path d="M460.2 2324.2L491.8 2324.2L476 2296.6z"/>
<path d="M497.7 2319.7L529.3 2319.7L513.5 2292.1z"/>
<path d="M534.7 2316.7L566.3 2316.7L550.5 2289.1z"/>
<path d="M572.2 2313.2L603.8 2313.2L588 2285.6z"/>
<path d="M610.2 2309.7L641.8 2309.7L626 2282.1z"/>
<path d="M648.2 2306.7L679.8 2306.7L664 2279.1z"/>
<path d="M685.7 2303.7L717.3 2303.7L701.5 2276.1z"/>
<path d="M716.2 2301.5L747.8 2301.5L732 2273.9z"/>
<path d="M745.7 2299.2L777.3 2299.2L761.5 2271.6z"/>
<path d="M804.7 2295.7L836.3 2295.7L820.5 2268.1z"/>
<path d="M864.2 2291.7L895.8 2291.7L880 2264.1z"/>
<path d="M925.2 2288.2L956.8 2288.2L941 2260.6z"/>
<path d="M985.2 2284.2L1016.8 2284.2L1001 2256.6z"/>
<path d="M1045.7 2280.7L1077.3 2280.7L1061.5 2253.1z"/>
<path d="M1105.7 2276.7L1137.3 2276.7L1121.5 2249.1z"/>
<path d="M1166.2 2271.6L1197.8 2271.6L1182 2244z"/>
<path d="M1226.8 2267.7L1258.4 2267.7L1242.6 2240.1z"/>
<path d="M1286.9 2262.8L1318.5 2262.8L1302.7 2235.2z"/>
<path d="M1347.4 2257L1379 2257L1363.2 2229.4z"/>
<path d="M1408 2249.6L1439.6 2249.6L1423.8 2222z"/>
<path d="M1467.7 2241.4L1499.3 2241.4L1483.5 2213.8z"/>
<path d="M1527.7 2231.2L1559.3 2231.2L1543.5 2203.6z"/>
<path d="M1573.1 2220L1604.7 2220L1588.9 2192.4z"/>
<path d="M1591 2212.7L1622.6 2212.7L1606.8 2185.1z"/>
<path d="M1606.3 2207.6L1637.9 2207.6L1622.1 2180z"/>
<path d="M1621.1 2200.7L1652.7 2200.7L1636.9 2173.1z"/>
<path d="M1635.6 2194.4L1667.2 2194.4L1651.4 2166.8z"/>
<path d="M1650.9 2184.2L1682.5 2184.2L1666.7 2156.6z"/>
<path d="M1665.2 2174L1696.8 2174L1681 2146.4z"/>
<path d="M1674.6 2165L1706.2 2165L1690.4 2137.4z"/>
<path d="M1682.2 2156.1L1713.8 2156.1L1698 2128.5z"/>
<path d="M1689.9 2148.5L1721.5 2148.5L1705.7 2120.9z"/>
<path d="M1697.5 2135.7L1729.1 2135.7L1713.3 2108.1z"/>
<path d="M1704.7 2123L1736.3 2123L1720.5 2095.4z"/>
<path d="M1711.6 2109L1743.2 2109L1727.4 2081.4z"/>
<path d="M1715.9 2097.5L1747.5 2097.5L1731.7 2069.9z"/>
<path d="M1720.5 2084.8L1752.1 2084.8L1736.3 2057.2z"/>
<path d="M1723.8 2073.3L1755.4 2073.3L1739.6 2045.7z"/>
<path d="M1727.4 2060.5L1759 2060.5L1743.2 2032.9z"/>
<path d="M1730.2 2049.1L1761.8 2049.1L1746 2021.5z"/>
<path d="M1733.2 2038.9L1764.8 2038.9L1749 2011.3z"/>
<path d="M1735 2028.7L1766.6 2028.7L1750.8 2001.1z"/>
<path d="M1737 2017.7L1768.6 2017.7L1752.8 1990.1z"/>
<path d="M1737 2017.7L1768.6 2017.7L1752.8 1990.1z"/>
<path d="M1718.4 2042.7L1750 2042.7L1734.2 2015.1z"/>
<path d="M1702.6 2071.2L1734.2 2071.2L1718.4 2043.6z"/>
<path d="M1684.3 2099.5L1715.9 2099.5L1700.1 2071.9z"/>
<path d="M1665.2 2119.2L1696.8 2119.2L1681 2091.6z"/>
<path d="M1655 2128.1L1686.6 2128.1L1670.8 2100.5z"/>
<path d="M1639.7 2139L1671.3 2139L1655.5 2111.4z"/>
<path d="M1623.6 2147.7L1655.2 2147.7L1639.4 2120.1z"/>
<path d="M1608.3 2154.9L1639.9 2154.9L1624.1 2127.3z"/>
<path d="M1593 2161.2L1624.6 2161.2L1608.8 2133.6z"/>
<path d="M1577.5 2168.4L1609.1 2168.4L1593.3 2140.8z"/>
<path d="M1536.2 2181.6L1567.8 2181.6L1552 2154z"/>
<path d="M1475.1 2194.4L1506.7 2194.4L1490.9 2166.8z"/>
<path d="M1415.4 2202.7L1447 2202.7L1431.2 2175.1z"/>
<path d="M1354.4 2208.8L1386 2208.8L1370.2 2181.2z"/>
<path d="M1293.9 2214.6L1325.5 2214.6L1309.7 2187z"/>
<path d="M1232.6 2218.7L1264.2 2218.7L1248.4 2191.1z"/>
<path d="M1171.7 2223.2L1203.3 2223.2L1187.5 2195.6z"/>
<path d="M1110.7 2226.2L1142.3 2226.2L1126.5 2198.6z"/>
<path d="M1050.7 2230.7L1082.3 2230.7L1066.5 2203.1z"/>
<path d="M990.2 2234.7L1021.8 2234.7L1006 2207.1z"/>
<path d="M924.2 2264.2L955.8 2264.2L940 2236.6z"/>
<path d="M860.7 2272.2L892.3 2272.2L876.5 2244.6z"/>
<path d="M780.7 2278.2L812.3 2278.2L796.5 2250.6z"/>
<path d="M718.2 2282.5L749.8 2282.5L734 2254.9z"/>
<path d="M686.2 2285.7L717.8 2285.7L702 2258.1z"/>
<path d="M611.2 2289.7L642.8 2289.7L627 2262.1z"/>
<path d="M535.7 2295.7L567.3 2295.7L551.5 2268.1z"/>
<path d="M460.7 2303.2L492.3 2303.2L476.5 2275.6z"/>
<path d="M384.7 2312.2L416.3 2312.2L400.5 2284.6z"/>
</g>
<g fill="#ff00ff" stroke="none">
<path d="M249 2381.5L290 2220.5L337.5 2204.5L361 2199.5L384 2194L416 2189L452.5 2184L476 2181.5L513.5 2178L550.5 2174L588 2170.5L626 2167.5L664 2164.5L701.5 2161.5L732 2159.5L761.5 2157L820.5 2153.5L880 2149.5L941 2146L1001 2142L1061.5 2138L1121.5 2134L1182 2129L1241.8 2123.9L1302.7 2118.5L1363.2 2112.8L1423.8 2105.8L1483.5 2097.5L1543.5 2086.4L1588.9 2075L1606.8 2068.7L1622.1 2062.3L1636.9 2055.4L1651.4 2047.8L1666.7 2037.6L1681 2025.3L1690.4 2016.4L1697.5 2008L1705.2 1997.3L1712.8 1985.8L1720.2 1973.1L1727.4 1960.3L1731.7 1947.6L1736.3 1936.1L1739.6 1924.7L1743.2 1910.6L1746 1899.2L1749 1886.4L1750.8 1869.3L1752.8 1841.8" fill="none" stroke="#ff00ff" stroke-width="1.5"/>
<path d="M1752.8 1841.8L1735.8 1869.8L1721.5 1903L1707 1929.7L1686.6 1954L1666.7 1976.9L1656 1985.8L1639.4 1996.8L1624.1 2005.5L1608.8 2013.9L1593.5 2020.6L1552 2033.8L1490.9 2046.9L1431.2 2055.9L1370.2 2062.5L1309.7 2068.3L1248.4 2073.6L1187.5 2078.2L1126.5 2082.5L1066.5 2086.5L1006 2091L940 2121L876 2127.5L796.5 2134.5L734 2138.3L702 2140.5L627 2146L551.5 2151.5L477.5 2159L400.5 2167" fill="none" stroke="#ff00ff" stroke-width="1.5"/>
<path d="M233.2 2372.3L264.8 2372.3L249 2399.9z"/>
<path d="M274.2 2211.3L305.8 2211.3L290 2238.9z"/>
<path d="M321.7 2195.3L353.3 2195.3L337.5 2222.9z"/>
<path d="M345.2 2190.3L376.8 2190.3L361 2217.9z"/>
<path d="M368.2 2184.8L399.8 2184.8L384 2212.4z"/>
<path d="M400.2 2179.8L431.8 2179.8L416 2207.4z"/>
<path d="M436.7 2174.8L468.3 2174.8L452.5 2202.4z"/>
<path d="M460.2 2172.3L491.8 2172.3L476 2199.9z"/>
<path d="M497.7 2168.8L529.3 2168.8L513.5 2196.4z"/>
<path d="M534.7 2164.8L566.3 2164.8L550.5 2192.4z"/>
<path d="M572.2 2161.3L603.8 2161.3L588 2188.9z"/>
<path d="M610.2 2158.3L641.8 2158.3L626 2185.9z"/>
<path d="M648.2 2155.3L679.8 2155.3L664 2182.9z"/>
<path d="M685.7 2152.3L717.3 2152.3L701.5 2179.9z"/>
<path d="M716.2 2150.3L747.8 2150.3L732 2177.9z"/>
<path d="M745.7 2147.8L777.3 2147.8L761.5 2175.4z"/>
<path d="M804.7 2144.3L836.3 2144.3L820.5 2171.9z"/>
<path d="M864.2 2140.3L895.8 2140.3L880 2167.9z"/>
<path d="M925.2 2136.8L956.8 2136.8L941 2164.4z"/>
<path d="M985.2 2132.8L1016.8 2132.8L1001 2160.4z"/>
<path d="M1045.7 2128.8L1077.3 2128.8L1061.5 2156.4z"/>
<path d="M1105.7 2124.8L1137.3 2124.8L1121.5 2152.4z"/>
<path d="M1166.2 2119.8L1197.8 2119.8L1182 2147.4z"/>
<path d="M1226 2114.7L1257.6 2114.7L1241.8 2142.3z"/>
<path d="M1286.9 2109.3L1318.5 2109.3L1302.7 2136.9z"/>
<path d="M1347.4 2103.6L1379 2103.6L1363.2 2131.2z"/>
<path d="M1408 2096.6L1439.6 2096.6L1423.8 2124.2z"/>
<path d="M1467.7 2088.3L1499.3 2088.3L1483.5 2115.9z"/>
<path d="M1527.7 2077.2L1559.3 2077.2L1543.5 2104.8z"/>
<path d="M1573.1 2065.8L1604.7 2065.8L1588.9 2093.4z"/>
<path d="M1591 2059.5L1622.6 2059.5L1606.8 2087.1z"/>
<path d="M1606.3 2053.1L1637.9 2053.1L1622.1 2080.7z"/>
<path d="M1621.1 2046.2L1652.7 2046.2L1636.9 2073.8z"/>
<path d="M1635.6 2038.6L1667.2 2038.6L1651.4 2066.2z"/>
<path d="M1650.9 2028.4L1682.5 2028.4L1666.7 2056z"/>
<path d="M1665.2 2016.1L1696.8 2016.1L1681 2043.7z"/>
<path d="M1674.6 2007.2L1706.2 2007.2L1690.4 2034.8z"/>
<path d="M1681.7 1998.8L1713.3 1998.8L1697.5 2026.4z"/>
<path d="M1689.4 1988.1L1721 1988.1L1705.2 2015.7z"/>
<path d="M1697 1976.6L1728.6 1976.6L1712.8 2004.2z"/>
<path d="M1704.4 1963.9L1736 1963.9L1720.2 1991.5z"/>
<path d="M1711.6 1951.1L1743.2 1951.1L1727.4 1978.7z"/>
<path d="M1715.9 1938.4L1747.5 1938.4L1731.7 1966z"/>
<path d="M1720.5 1926.9L1752.1 1926.9L1736.3 1954.5z"/>
<path d="M1723.8 1915.5L1755.4 1915.5L1739.6 1943.1z"/>
<path d="M1727.4 1901.4L1759 1901.4L1743.2 1929z"/>
<path d="M1730.2 1890L1761.8 1890L1746 1917.6z"/>
<path d="M1733.2 1877.2L1764.8 1877.2L1749 1904.8z"/>
<path d="M1735 1860.1L1766.6 1860.1L1750.8 1887.7z"/>
<path d="M1737 1832.6L1768.6 1832.6L1752.8 1860.2z"/>
<path d="M1737 1832.6L1768.6 1832.6L1752.8 1860.2z"/>
<path d="M1720 1860.6L1751.6 1860.6L1735.8 1888.2z"/>
<path d="M1705.7 1893.8L1737.3 1893.8L1721.5 1921.4z"/>
<path d="M1691.2 1920.5L1722.8 1920.5L1707 1948.1z"/>
<path d="M1670.8 1944.8L1702.4 1944.8L1686.6 1972.4z"/>
<path d="M1650.9 1967.7L1682.5 1967.7L1666.7 1995.3z"/>
<path d="M1640.2 1976.6L1671.8 1976.6L1656 2004.2z"/>
<path d="M1623.6 1987.6L1655.2 1987.6L1639.4 2015.2z"/>
<path d="M1608.3 1996.3L1639.9 1996.3L1624.1 2023.9z"/>
<path d="M1593 2004.7L1624.6 2004.7L1608.8 2032.3z"/>
<path d="M1577.7 2011.4L1609.3 2011.4L1593.5 2039z"/>
<path d="M1536.2 2024.6L1567.8 2024.6L1552 2052.2z"/>
<path d="M1475.1 2037.7L1506.7 2037.7L1490.9 2065.3z"/>
<path d="M1415.4 2046.7L1447 2046.7L1431.2 2074.3z"/>
<path d="M1354.4 2053.3L1386 2053.3L1370.2 2080.9z"/>
<path d="M1293.9 2059.1L1325.5 2059.1L1309.7 2086.7z"/>
<path d="M1232.6 2064.4L1264.2 2064.4L1248.4 2092z"/>
<path d="M1171.7 2069L1203.3 2069L1187.5 2096.6z"/>
<path d="M1110.7 2073.3L1142.3 2073.3L1126.5 2100.9z"/>
<path d="M1050.7 2077.3L1082.3 2077.3L1066.5 2104.9z"/>
<path d="M990.2 2081.8L1021.8 2081.8L1006 2109.4z"/>
<path d="M924.2 2111.8L955.8 2111.8L940 2139.4z"/>
<path d="M860.2 2118.3L891.8 2118.3L876 2145.9z"/>
<path d="M780.7 2125.3L812.3 2125.3L796.5 2152.9z"/>
<path d="M718.2 2129.1L749.8 2129.1L734 2156.7z"/>
<path d="M686.2 2131.3L717.8 2131.3L702 2158.9z"/>
<path d="M611.2 2136.8L642.8 2136.8L627 2164.4z"/>
<path d="M535.7 2142.3L567.3 2142.3L551.5 2169.9z"/>
<path d="M461.7 2149.8L493.3 2149.8L477.5 2177.4z"/>
<path d="M384.7 2157.8L416.3 2157.8L400.5 2185.4z"/>
</g>
</g>
<rect x="172.5" y="1685.3" width="1662.0" height="1237.2" fill="none" stroke="#000" stroke-width="4.9"/>
<path d="M248.4 2922.5V2946M399.5 2922.5V2935M550.6 2922.5V2946M701.7 2922.5V2935M852.8 2922.5V2946M1003.9 2922.5V2935M1155.1 2922.5V2946M1306.2 2922.5V2935M1457.3 2922.5V2946M1608.4 2922.5V2935M1759.5 2922.5V2946" stroke="#000" stroke-width="5" fill="none"/>
<g font-family="'Liberation Sans', Arial, sans-serif" font-size="45" text-anchor="middle" fill="#000">
<text transform="translate(247.4 2997) scale(1 1.075)">0.0</text>
<text transform="translate(549.6 2997) scale(1 1.075)">0.2</text>
<text transform="translate(851.8 2997) scale(1 1.075)">0.4</text>
<text transform="translate(1154.1 2997) scale(1 1.075)">0.6</text>
<text transform="translate(1456.3 2997) scale(1 1.075)">0.8</text>
<text transform="translate(1758.5 2997) scale(1 1.075)">1.0</text>
</g>
<text transform="translate(699.5 3088.3) scale(1 1.02)" font-family="'Liberation Sans', Arial, sans-serif" font-size="56.2" fill="#000">Relative Pressure (p/p0)</text>
<text transform="translate(96 2740.1) rotate(-90) scale(1 1.05)" font-family="'Liberation Sans', Arial, sans-serif" font-size="55.5" fill="#000"><tspan letter-spacing="0.3">Quantity</tspan> <tspan dx="2.5" letter-spacing="0.4">Adsorbed</tspan> <tspan letter-spacing="0.5">(cm</tspan><tspan font-size="33.3" dx="1.5" dy="-28.3">3</tspan><tspan dy="28.3">/g <tspan dx="1" letter-spacing="0.5">STP)</tspan></tspan></text>
<g fill="#000"><text x="896" y="1866" font-family="'Liberation Serif', 'Noto Serif CJK SC', serif" font-size="46">（</text><text x="949.5" y="1870" font-family="'Liberation Sans', Arial, sans-serif" font-size="55.5" transform="translate(949.5 0) scale(1.0 1) translate(-949.5 0)">b</text><text x="988" y="1866" font-family="'Liberation Serif', 'Noto Serif CJK SC', serif" font-size="46">）</text></g>
<rect x="304.7" y="1748.7" width="462.3" height="273.89999999999986" fill="#fff" stroke="#000" stroke-width="1.5"/>
<path d="M313.5 1781.8H438" stroke="#ff00ff" stroke-width="1.5"/>
<g fill="#ff00ff"><path d="M359.9 1772.6L391.6 1772.6L375.8 1800.2z"/></g>
<text transform="translate(454 1801.1) scale(1 1.03)" font-family="'Liberation Sans', Arial, sans-serif" font-size="56" fill="#000">MRBC-2m</text>
<path d="M313.5 1851.6H438" stroke="#0000ff" stroke-width="1.5"/>
<g fill="#0000ff"><path d="M359.9 1860.8L391.6 1860.8L375.8 1833.2z"/></g>
<text transform="translate(454 1870.9) scale(1 1.03)" font-family="'Liberation Sans', Arial, sans-serif" font-size="56" fill="#000">MRBC-1.5m</text>
<path d="M313.5 1921.2H438" stroke="#ff0000" stroke-width="1.5"/>
<g fill="#ff0000"><circle cx="375.8" cy="1921.2" r="12.7"/></g>
<text transform="translate(454 1940.5) scale(1 1.03)" font-family="'Liberation Sans', Arial, sans-serif" font-size="56" fill="#000">MRBC-1m</text>
<path d="M313.5 1989.8H438" stroke="#000000" stroke-width="1.5"/>
<g fill="#000000"><rect x="364.2" y="1978.3" width="23.0" height="23.0"/></g>
<text transform="translate(454 2009.1) scale(1 1.03)" font-family="'Liberation Sans', Arial, sans-serif" font-size="56" fill="#000">MRBC-0.5m</text>
<clipPath id="clip3"><rect x="172.5" y="3341.3" width="1662.0" height="1237.1999999999998"/></clipPath>
<g clip-path="url(#clip3)" shape-rendering="crispEdges">
<g fill="#000000" stroke="none">
<path d="M250 4800L251 4437.5L321.5 4340.5L382.5 4323L416 4316.5L452.5 4311.5L476 4308.5L513 4302.5L550.5 4298.5L588 4294.5L626 4290.5L664 4287L701.5 4283.5L731 4281.3L761.5 4278L820 4274L880 4269L940.5 4265L1001 4260.5L1061.5 4256L1121.5 4252L1182 4247.2L1242.2 4242.1L1302.7 4236.7L1363.2 4230.9L1422.9 4223.5L1483 4215.3L1543.3 4204.2L1589.3 4192L1606.8 4186.3L1622.1 4179.9L1636.9 4174L1651.4 4167.2L1666.7 4158.8L1681 4149.3L1690.4 4141.7L1698 4134L1705.7 4126.4L1713.3 4116.2L1720.5 4106L1727.4 4094.5L1731.7 4085.6L1736.3 4075.4L1739.6 4066.5L1743.2 4056.3L1746 4047.4L1748.5 4037.2L1750.6 4025.7L1751.6 4009.6" fill="none" stroke="#000000" stroke-width="1.5"/>
<path d="M1751.6 4009.6L1734.2 4033.3L1718.4 4059.3L1698.6 4083L1679.7 4100.9L1670 4108.5L1654.7 4117.5L1639.9 4126.4L1624.1 4132.8L1609.3 4139.1L1593.3 4145L1551.5 4156.1L1490.5 4169.6L1430.4 4179.1L1369.8 4186.1L1308.9 4192.2L1247.9 4197.2L1187.4 4201.2L1126.5 4205L1066.5 4209L1006.5 4213L940 4241L875 4250L796.5 4256.5L734 4261L702 4265L627.5 4271L551.5 4278.5L477.5 4286L400 4296.5" fill="none" stroke="#000000" stroke-width="1.5"/>
<rect x="238.5" y="4788.5" width="23.0" height="23.0"/>
<rect x="239.5" y="4426" width="23.0" height="23.0"/>
<rect x="310" y="4329" width="23.0" height="23.0"/>
<rect x="371" y="4311.5" width="23.0" height="23.0"/>
<rect x="404.5" y="4305" width="23.0" height="23.0"/>
<rect x="441" y="4300" width="23.0" height="23.0"/>
<rect x="464.5" y="4297" width="23.0" height="23.0"/>
<rect x="501.5" y="4291" width="23.0" height="23.0"/>
<rect x="539" y="4287" width="23.0" height="23.0"/>
<rect x="576.5" y="4283" width="23.0" height="23.0"/>
<rect x="614.5" y="4279" width="23.0" height="23.0"/>
<rect x="652.5" y="4275.5" width="23.0" height="23.0"/>
<rect x="690" y="4272" width="23.0" height="23.0"/>
<rect x="719.5" y="4269.8" width="23.0" height="23.0"/>
<rect x="750" y="4266.5" width="23.0" height="23.0"/>
<rect x="808.5" y="4262.5" width="23.0" height="23.0"/>
<rect x="868.5" y="4257.5" width="23.0" height="23.0"/>
<rect x="929" y="4253.5" width="23.0" height="23.0"/>
<rect x="989.5" y="4249" width="23.0" height="23.0"/>
<rect x="1050" y="4244.5" width="23.0" height="23.0"/>
<rect x="1110" y="4240.5" width="23.0" height="23.0"/>
<rect x="1170.5" y="4235.7" width="23.0" height="23.0"/>
<rect x="1230.7" y="4230.6" width="23.0" height="23.0"/>
<rect x="1291.2" y="4225.2" width="23.0" height="23.0"/>
<rect x="1351.7" y="4219.4" width="23.0" height="23.0"/>
<rect x="1411.4" y="4212" width="23.0" height="23.0"/>
<rect x="1471.5" y="4203.8" width="23.0" height="23.0"/>
<rect x="1531.8" y="4192.7" width="23.0" height="23.0"/>
<rect x="1577.8" y="4180.5" width="23.0" height="23.0"/>
<rect x="1595.3" y="4174.8" width="23.0" height="23.0"/>
<rect x="1610.6" y="4168.4" width="23.0" height="23.0"/>
<rect x="1625.4" y="4162.5" width="23.0" height="23.0"/>
<rect x="1639.9" y="4155.7" width="23.0" height="23.0"/>
<rect x="1655.2" y="4147.3" width="23.0" height="23.0"/>
<rect x="1669.5" y="4137.8" width="23.0" height="23.0"/>
<rect x="1678.9" y="4130.2" width="23.0" height="23.0"/>
<rect x="1686.5" y="4122.5" width="23.0" height="23.0"/>
<rect x="1694.2" y="4114.9" width="23.0" height="23.0"/>
<rect x="1701.8" y="4104.7" width="23.0" height="23.0"/>
<rect x="1709" y="4094.5" width="23.0" height="23.0"/>
<rect x="1715.9" y="4083" width="23.0" height="23.0"/>
<rect x="1720.2" y="4074.1" width="23.0" height="23.0"/>
<rect x="1724.8" y="4063.9" width="23.0" height="23.0"/>
<rect x="1728.1" y="4055" width="23.0" height="23.0"/>
<rect x="1731.7" y="4044.8" width="23.0" height="23.0"/>
<rect x="1734.5" y="4035.9" width="23.0" height="23.0"/>
<rect x="1737" y="4025.7" width="23.0" height="23.0"/>
<rect x="1739.1" y="4014.2" width="23.0" height="23.0"/>
<rect x="1740.1" y="3998.1" width="23.0" height="23.0"/>
<rect x="1740.1" y="3998.1" width="23.0" height="23.0"/>
<rect x="1722.7" y="4021.8" width="23.0" height="23.0"/>
<rect x="1706.9" y="4047.8" width="23.0" height="23.0"/>
<rect x="1687.1" y="4071.5" width="23.0" height="23.0"/>
<rect x="1668.2" y="4089.4" width="23.0" height="23.0"/>
<rect x="1658.5" y="4097" width="23.0" height="23.0"/>
<rect x="1643.2" y="4106" width="23.0" height="23.0"/>
<rect x="1628.4" y="4114.9" width="23.0" height="23.0"/>
<rect x="1612.6" y="4121.3" width="23.0" height="23.0"/>
<rect x="1597.8" y="4127.6" width="23.0" height="23.0"/>
<rect x="1581.8" y="4133.5" width="23.0" height="23.0"/>
<rect x="1540" y="4144.6" width="23.0" height="23.0"/>
<rect x="1479" y="4158.1" width="23.0" height="23.0"/>
<rect x="1418.9" y="4167.6" width="23.0" height="23.0"/>
<rect x="1358.3" y="4174.6" width="23.0" height="23.0"/>
<rect x="1297.4" y="4180.7" width="23.0" height="23.0"/>
<rect x="1236.4" y="4185.7" width="23.0" height="23.0"/>
<rect x="1175.9" y="4189.7" width="23.0" height="23.0"/>
<rect x="1115" y="4193.5" width="23.0" height="23.0"/>
<rect x="1055" y="4197.5" width="23.0" height="23.0"/>
<rect x="995" y="4201.5" width="23.0" height="23.0"/>
<rect x="928.5" y="4229.5" width="23.0" height="23.0"/>
<rect x="863.5" y="4238.5" width="23.0" height="23.0"/>
<rect x="785" y="4245" width="23.0" height="23.0"/>
<rect x="722.5" y="4249.5" width="23.0" height="23.0"/>
<rect x="690.5" y="4253.5" width="23.0" height="23.0"/>
<rect x="616" y="4259.5" width="23.0" height="23.0"/>
<rect x="540" y="4267" width="23.0" height="23.0"/>
<rect x="466" y="4274.5" width="23.0" height="23.0"/>
<rect x="388.5" y="4285" width="23.0" height="23.0"/>
</g>
<g fill="#ff0000" stroke="none">
<path d="M249 4459L253 4289L336.5 4216L361 4210L384 4205L415 4198.5L452.5 4193.5L476 4191L513 4186L550.5 4182.5L588 4178.5L625.5 4175L663.5 4171.5L701 4168.5L731 4166L761.5 4163L820 4159L880 4155L940.5 4151L1001 4146L1061.5 4141.5L1121.5 4137L1182 4132.7L1242.2 4127.6L1302.7 4121.8L1363.2 4115.6L1422.9 4108.2L1483.5 4100L1543.3 4089.1L1588.7 4078.3L1606.8 4071.6L1622.1 4066.5L1636.9 4060.1L1651.4 4053.7L1666.7 4046.1L1681 4036.4L1690.4 4028.8L1698 4021.9L1705.7 4013L1713.3 4002.8L1720.5 3992.6L1727.4 3981.1L1731.7 3972.2L1736.3 3962L1739.6 3953.8L1743.2 3944.1L1746 3936.5L1749 3926.8L1751.1 3918.6L1752.8 3904.5" fill="none" stroke="#ff0000" stroke-width="1.5"/>
<path d="M1752.8 3904.5L1735 3928L1717.2 3951.3L1696 3972.2L1672 3989.5L1647.1 4004L1634.3 4010.4L1621.6 4016L1607.5 4020.6L1593.3 4025.8L1551.6 4036.7L1490 4047.7L1430.8 4056.4L1369.8 4063.4L1309.3 4069.5L1247.9 4074.5L1187.5 4079.4L1126.5 4083.5L1066 4088L1006 4093L941.5 4127.5L876.5 4136.5L796.5 4144L734 4148.7L702 4151L627 4156L551.5 4162.5L476.5 4170L400 4180" fill="none" stroke="#ff0000" stroke-width="1.5"/>
<circle cx="249" cy="4459" r="12.7"/>
<circle cx="253" cy="4289" r="12.7"/>
<circle cx="336.5" cy="4216" r="12.7"/>
<circle cx="361" cy="4210" r="12.7"/>
<circle cx="384" cy="4205" r="12.7"/>
<circle cx="415" cy="4198.5" r="12.7"/>
<circle cx="452.5" cy="4193.5" r="12.7"/>
<circle cx="476" cy="4191" r="12.7"/>
<circle cx="513" cy="4186" r="12.7"/>
<circle cx="550.5" cy="4182.5" r="12.7"/>
<circle cx="588" cy="4178.5" r="12.7"/>
<circle cx="625.5" cy="4175" r="12.7"/>
<circle cx="663.5" cy="4171.5" r="12.7"/>
<circle cx="701" cy="4168.5" r="12.7"/>
<circle cx="731" cy="4166" r="12.7"/>
<circle cx="761.5" cy="4163" r="12.7"/>
<circle cx="820" cy="4159" r="12.7"/>
<circle cx="880" cy="4155" r="12.7"/>
<circle cx="940.5" cy="4151" r="12.7"/>
<circle cx="1001" cy="4146" r="12.7"/>
<circle cx="1061.5" cy="4141.5" r="12.7"/>
<circle cx="1121.5" cy="4137" r="12.7"/>
<circle cx="1182" cy="4132.7" r="12.7"/>
<circle cx="1242.2" cy="4127.6" r="12.7"/>
<circle cx="1302.7" cy="4121.8" r="12.7"/>
<circle cx="1363.2" cy="4115.6" r="12.7"/>
<circle cx="1422.9" cy="4108.2" r="12.7"/>
<circle cx="1483.5" cy="4100" r="12.7"/>
<circle cx="1543.3" cy="4089.1" r="12.7"/>
<circle cx="1588.7" cy="4078.3" r="12.7"/>
<circle cx="1606.8" cy="4071.6" r="12.7"/>
<circle cx="1622.1" cy="4066.5" r="12.7"/>
<circle cx="1636.9" cy="4060.1" r="12.7"/>
<circle cx="1651.4" cy="4053.7" r="12.7"/>
<circle cx="1666.7" cy="4046.1" r="12.7"/>
<circle cx="1681" cy="4036.4" r="12.7"/>
<circle cx="1690.4" cy="4028.8" r="12.7"/>
<circle cx="1698" cy="4021.9" r="12.7"/>
<circle cx="1705.7" cy="4013" r="12.7"/>
<circle cx="1713.3" cy="4002.8" r="12.7"/>
<circle cx="1720.5" cy="3992.6" r="12.7"/>
<circle cx="1727.4" cy="3981.1" r="12.7"/>
<circle cx="1731.7" cy="3972.2" r="12.7"/>
<circle cx="1736.3" cy="3962" r="12.7"/>
<circle cx="1739.6" cy="3953.8" r="12.7"/>
<circle cx="1743.2" cy="3944.1" r="12.7"/>
<circle cx="1746" cy="3936.5" r="12.7"/>
<circle cx="1749" cy="3926.8" r="12.7"/>
<circle cx="1751.1" cy="3918.6" r="12.7"/>
<circle cx="1752.8" cy="3904.5" r="12.7"/>
<circle cx="1752.8" cy="3904.5" r="12.7"/>
<circle cx="1735" cy="3928" r="12.7"/>
<circle cx="1717.2" cy="3951.3" r="12.7"/>
<circle cx="1696" cy="3972.2" r="12.7"/>
<circle cx="1672" cy="3989.5" r="12.7"/>
<circle cx="1647.1" cy="4004" r="12.7"/>
<circle cx="1634.3" cy="4010.4" r="12.7"/>
<circle cx="1621.6" cy="4016" r="12.7"/>
<circle cx="1607.5" cy="4020.6" r="12.7"/>
<circle cx="1593.3" cy="4025.8" r="12.7"/>
<circle cx="1551.6" cy="4036.7" r="12.7"/>
<circle cx="1490" cy="4047.7" r="12.7"/>
<circle cx="1430.8" cy="4056.4" r="12.7"/>
<circle cx="1369.8" cy="4063.4" r="12.7"/>
<circle cx="1309.3" cy="4069.5" r="12.7"/>
<circle cx="1247.9" cy="4074.5" r="12.7"/>
<circle cx="1187.5" cy="4079.4" r="12.7"/>
<circle cx="1126.5" cy="4083.5" r="12.7"/>
<circle cx="1066" cy="4088" r="12.7"/>
<circle cx="1006" cy="4093" r="12.7"/>
<circle cx="941.5" cy="4127.5" r="12.7"/>
<circle cx="876.5" cy="4136.5" r="12.7"/>
<circle cx="796.5" cy="4144" r="12.7"/>
<circle cx="734" cy="4148.7" r="12.7"/>
<circle cx="702" cy="4151" r="12.7"/>
<circle cx="627" cy="4156" r="12.7"/>
<circle cx="551.5" cy="4162.5" r="12.7"/>
<circle cx="476.5" cy="4170" r="12.7"/>
<circle cx="400" cy="4180" r="12.7"/>
</g>
<g fill="#0000ff" stroke="none">
<path d="M249 4303L250 4125L321 4022.5L384 4006.5L419 4000.5L452.5 3994.5L476 3992L513.5 3986.5L550.5 3983L588 3980L626 3976.5L664 3973.5L701.5 3970L732 3967.8L761.5 3965L820.5 3961.5L880 3958L941 3954L1001 3950L1061.5 3945.5L1121.5 3941.5L1182 3937.8L1242.6 3933.5L1302.7 3928.2L1363.2 3923.2L1423.8 3915.4L1483.5 3907.2L1543.5 3897L1588.9 3885.3L1606.8 3879.2L1622.1 3873.6L1636.9 3866.9L1651.4 3859.3L1666.7 3850.6L1681 3839.7L1690.4 3831.3L1698 3823.6L1705.7 3814.2L1713.3 3804L1720.5 3793L1727.4 3779.8L1731.7 3769.6L1736.3 3759.4L1739.6 3750.5L1743.2 3740.3L1746 3730.1L1749 3722L1751.1 3716L1752.8 3706.4" fill="none" stroke="#0000ff" stroke-width="1.5"/>
<path d="M1752.8 3706.4L1735 3728.8L1717.9 3753L1698 3775.9L1685.3 3789.5L1670.8 3798.9L1654.7 3807.3L1639.4 3814.7L1624.1 3821.1L1608.8 3826.9L1593.5 3832.5L1552.7 3844.5L1490.9 3858.2L1430.4 3868.1L1370.2 3875.5L1309.7 3881.2L1248.4 3885.4L1187.5 3889L1126.5 3892.5L1066.5 3896.5L1006.5 3901.5L940 3932.5L877.5 3940L796.5 3946.5L734.5 3951.5L702 3953L627 3959L551.5 3964.5L477.5 3972L400.5 3981.5" fill="none" stroke="#0000ff" stroke-width="1.5"/>
<path d="M233.2 4312.2L264.8 4312.2L249 4284.6z"/>
<path d="M234.2 4134.2L265.8 4134.2L250 4106.6z"/>
<path d="M305.2 4031.7L336.8 4031.7L321 4004.1z"/>
<path d="M368.2 4015.7L399.8 4015.7L384 3988.1z"/>
<path d="M403.2 4009.7L434.8 4009.7L419 3982.1z"/>
<path d="M436.7 4003.7L468.3 4003.7L452.5 3976.1z"/>
<path d="M460.2 4001.2L491.8 4001.2L476 3973.6z"/>
<path d="M497.7 3995.7L529.3 3995.7L513.5 3968.1z"/>
<path d="M534.7 3992.2L566.3 3992.2L550.5 3964.6z"/>
<path d="M572.2 3989.2L603.8 3989.2L588 3961.6z"/>
<path d="M610.2 3985.7L641.8 3985.7L626 3958.1z"/>
<path d="M648.2 3982.7L679.8 3982.7L664 3955.1z"/>
<path d="M685.7 3979.2L717.3 3979.2L701.5 3951.6z"/>
<path d="M716.2 3977L747.8 3977L732 3949.4z"/>
<path d="M745.7 3974.2L777.3 3974.2L761.5 3946.6z"/>
<path d="M804.7 3970.7L836.3 3970.7L820.5 3943.1z"/>
<path d="M864.2 3967.2L895.8 3967.2L880 3939.6z"/>
<path d="M925.2 3963.2L956.8 3963.2L941 3935.6z"/>
<path d="M985.2 3959.2L1016.8 3959.2L1001 3931.6z"/>
<path d="M1045.7 3954.7L1077.3 3954.7L1061.5 3927.1z"/>
<path d="M1105.7 3950.7L1137.3 3950.7L1121.5 3923.1z"/>
<path d="M1166.2 3947L1197.8 3947L1182 3919.4z"/>
<path d="M1226.8 3942.7L1258.4 3942.7L1242.6 3915.1z"/>
<path d="M1286.9 3937.4L1318.5 3937.4L1302.7 3909.8z"/>
<path d="M1347.4 3932.4L1379 3932.4L1363.2 3904.8z"/>
<path d="M1408 3924.6L1439.6 3924.6L1423.8 3897z"/>
<path d="M1467.7 3916.4L1499.3 3916.4L1483.5 3888.8z"/>
<path d="M1527.7 3906.2L1559.3 3906.2L1543.5 3878.6z"/>
<path d="M1573.1 3894.5L1604.7 3894.5L1588.9 3866.9z"/>
<path d="M1591 3888.4L1622.6 3888.4L1606.8 3860.8z"/>
<path d="M1606.3 3882.8L1637.9 3882.8L1622.1 3855.2z"/>
<path d="M1621.1 3876.1L1652.7 3876.1L1636.9 3848.5z"/>
<path d="M1635.6 3868.5L1667.2 3868.5L1651.4 3840.9z"/>
<path d="M1650.9 3859.8L1682.5 3859.8L1666.7 3832.2z"/>
<path d="M1665.2 3848.9L1696.8 3848.9L1681 3821.3z"/>
<path d="M1674.6 3840.5L1706.2 3840.5L1690.4 3812.9z"/>
<path d="M1682.2 3832.8L1713.8 3832.8L1698 3805.2z"/>
<path d="M1689.9 3823.4L1721.5 3823.4L1705.7 3795.8z"/>
<path d="M1697.5 3813.2L1729.1 3813.2L1713.3 3785.6z"/>
<path d="M1704.7 3802.2L1736.3 3802.2L1720.5 3774.6z"/>
<path d="M1711.6 3789L1743.2 3789L1727.4 3761.4z"/>
<path d="M1715.9 3778.8L1747.5 3778.8L1731.7 3751.2z"/>
<path d="M1720.5 3768.6L1752.1 3768.6L1736.3 3741z"/>
<path d="M1723.8 3759.7L1755.4 3759.7L1739.6 3732.1z"/>
<path d="M1727.4 3749.5L1759 3749.5L1743.2 3721.9z"/>
<path d="M1730.2 3739.3L1761.8 3739.3L1746 3711.7z"/>
<path d="M1733.2 3731.2L1764.8 3731.2L1749 3703.6z"/>
<path d="M1735.3 3725.2L1766.9 3725.2L1751.1 3697.6z"/>
<path d="M1737 3715.6L1768.6 3715.6L1752.8 3688z"/>
<path d="M1737 3715.6L1768.6 3715.6L1752.8 3688z"/>
<path d="M1719.2 3738L1750.8 3738L1735 3710.4z"/>
<path d="M1702.1 3762.2L1733.7 3762.2L1717.9 3734.6z"/>
<path d="M1682.2 3785.1L1713.8 3785.1L1698 3757.5z"/>
<path d="M1669.5 3798.7L1701.1 3798.7L1685.3 3771.1z"/>
<path d="M1655 3808.1L1686.6 3808.1L1670.8 3780.5z"/>
<path d="M1638.9 3816.5L1670.5 3816.5L1654.7 3788.9z"/>
<path d="M1623.6 3823.9L1655.2 3823.9L1639.4 3796.3z"/>
<path d="M1608.3 3830.3L1639.9 3830.3L1624.1 3802.7z"/>
<path d="M1593 3836.1L1624.6 3836.1L1608.8 3808.5z"/>
<path d="M1577.7 3841.7L1609.3 3841.7L1593.5 3814.1z"/>
<path d="M1536.9 3853.7L1568.5 3853.7L1552.7 3826.1z"/>
<path d="M1475.1 3867.4L1506.7 3867.4L1490.9 3839.8z"/>
<path d="M1414.6 3877.3L1446.2 3877.3L1430.4 3849.7z"/>
<path d="M1354.4 3884.7L1386 3884.7L1370.2 3857.1z"/>
<path d="M1293.9 3890.4L1325.5 3890.4L1309.7 3862.8z"/>
<path d="M1232.6 3894.6L1264.2 3894.6L1248.4 3867z"/>
<path d="M1171.7 3898.2L1203.3 3898.2L1187.5 3870.6z"/>
<path d="M1110.7 3901.7L1142.3 3901.7L1126.5 3874.1z"/>
<path d="M1050.7 3905.7L1082.3 3905.7L1066.5 3878.1z"/>
<path d="M990.7 3910.7L1022.3 3910.7L1006.5 3883.1z"/>
<path d="M924.2 3941.7L955.8 3941.7L940 3914.1z"/>
<path d="M861.7 3949.2L893.3 3949.2L877.5 3921.6z"/>
<path d="M780.7 3955.7L812.3 3955.7L796.5 3928.1z"/>
<path d="M718.7 3960.7L750.3 3960.7L734.5 3933.1z"/>
<path d="M686.2 3962.2L717.8 3962.2L702 3934.6z"/>
<path d="M611.2 3968.2L642.8 3968.2L627 3940.6z"/>
<path d="M535.7 3973.7L567.3 3973.7L551.5 3946.1z"/>
<path d="M461.7 3981.2L493.3 3981.2L477.5 3953.6z"/>
<path d="M384.7 3990.7L416.3 3990.7L400.5 3963.1z"/>
</g>
<g fill="#ff00ff" stroke="none">
<path d="M249 4121L251 3944.5L334 3867L361 3860L384 3854.5L416 3848.5L452.5 3843.5L476 3840.5L513.5 3836.5L550.5 3832.5L588 3828.5L626 3825L664 3822L701.5 3818.5L732 3816.3L761.5 3813.5L820.5 3809L880 3805L941 3801L1001 3797L1061.5 3792.5L1121.5 3788.5L1182 3783.8L1241.8 3778.7L1302.7 3773.3L1363.2 3766.4L1423.8 3759.8L1483.5 3750.7L1543.5 3740L1588.7 3726.9L1606.8 3719.4L1622.1 3713L1636.9 3705.8L1651.4 3697.2L1666.7 3687L1681 3675.3L1690.4 3666.3L1698 3658.2L1705.7 3648.8L1713.3 3638.6L1720.5 3627.6L1727.4 3614.8L1731.7 3604.7L1736.3 3593.2L1739.6 3583.5L1743.2 3572.8L1746 3562.6L1749 3551.1L1751.1 3538.9L1752.8 3519.3" fill="none" stroke="#ff00ff" stroke-width="1.5"/>
<path d="M1752.8 3519.3L1735 3545.3L1719.7 3573.3L1700.1 3598.3L1681 3618.7L1671.3 3627.1L1655.5 3637.8L1639.4 3646.2L1624.1 3653.8L1608.8 3660.7L1593.3 3666.7L1553 3681L1490.9 3699.2L1430.4 3709.5L1370.2 3716.9L1309.7 3723.1L1248.4 3728.1L1187.5 3732.8L1127.5 3737L1066.5 3741.5L1006 3746L941.5 3780L877.5 3788.5L797.5 3796L734 3800L702 3802.5L627 3808L551.5 3814.5L477.5 3821.5L400.5 3831.5" fill="none" stroke="#ff00ff" stroke-width="1.5"/>
<path d="M233.2 4111.8L264.8 4111.8L249 4139.4z"/>
<path d="M235.2 3935.3L266.8 3935.3L251 3962.9z"/>
<path d="M318.2 3857.8L349.8 3857.8L334 3885.4z"/>
<path d="M345.2 3850.8L376.8 3850.8L361 3878.4z"/>
<path d="M368.2 3845.3L399.8 3845.3L384 3872.9z"/>
<path d="M400.2 3839.3L431.8 3839.3L416 3866.9z"/>
<path d="M436.7 3834.3L468.3 3834.3L452.5 3861.9z"/>
<path d="M460.2 3831.3L491.8 3831.3L476 3858.9z"/>
<path d="M497.7 3827.3L529.3 3827.3L513.5 3854.9z"/>
<path d="M534.7 3823.3L566.3 3823.3L550.5 3850.9z"/>
<path d="M572.2 3819.3L603.8 3819.3L588 3846.9z"/>
<path d="M610.2 3815.8L641.8 3815.8L626 3843.4z"/>
<path d="M648.2 3812.8L679.8 3812.8L664 3840.4z"/>
<path d="M685.7 3809.3L717.3 3809.3L701.5 3836.9z"/>
<path d="M716.2 3807.1L747.8 3807.1L732 3834.7z"/>
<path d="M745.7 3804.3L777.3 3804.3L761.5 3831.9z"/>
<path d="M804.7 3799.8L836.3 3799.8L820.5 3827.4z"/>
<path d="M864.2 3795.8L895.8 3795.8L880 3823.4z"/>
<path d="M925.2 3791.8L956.8 3791.8L941 3819.4z"/>
<path d="M985.2 3787.8L1016.8 3787.8L1001 3815.4z"/>
<path d="M1045.7 3783.3L1077.3 3783.3L1061.5 3810.9z"/>
<path d="M1105.7 3779.3L1137.3 3779.3L1121.5 3806.9z"/>
<path d="M1166.2 3774.6L1197.8 3774.6L1182 3802.2z"/>
<path d="M1226 3769.5L1257.6 3769.5L1241.8 3797.1z"/>
<path d="M1292.7 3767.6L1312.7 3767.6L1302.7 3784.6z"/>
<path d="M1347.4 3757.2L1379 3757.2L1363.2 3784.8z"/>
<path d="M1408 3750.6L1439.6 3750.6L1423.8 3778.2z"/>
<path d="M1467.7 3741.5L1499.3 3741.5L1483.5 3769.1z"/>
<path d="M1527.7 3730.8L1559.3 3730.8L1543.5 3758.4z"/>
<path d="M1572.9 3717.7L1604.5 3717.7L1588.7 3745.3z"/>
<path d="M1591 3710.2L1622.6 3710.2L1606.8 3737.8z"/>
<path d="M1606.3 3703.8L1637.9 3703.8L1622.1 3731.4z"/>
<path d="M1621.1 3696.6L1652.7 3696.6L1636.9 3724.2z"/>
<path d="M1635.6 3688L1667.2 3688L1651.4 3715.6z"/>
<path d="M1650.9 3677.8L1682.5 3677.8L1666.7 3705.4z"/>
<path d="M1665.2 3666.1L1696.8 3666.1L1681 3693.7z"/>
<path d="M1674.6 3657.1L1706.2 3657.1L1690.4 3684.7z"/>
<path d="M1682.2 3649L1713.8 3649L1698 3676.6z"/>
<path d="M1689.9 3639.6L1721.5 3639.6L1705.7 3667.2z"/>
<path d="M1697.5 3629.4L1729.1 3629.4L1713.3 3657z"/>
<path d="M1704.7 3618.4L1736.3 3618.4L1720.5 3646z"/>
<path d="M1711.6 3605.6L1743.2 3605.6L1727.4 3633.2z"/>
<path d="M1715.9 3595.5L1747.5 3595.5L1731.7 3623.1z"/>
<path d="M1720.5 3584L1752.1 3584L1736.3 3611.6z"/>
<path d="M1723.8 3574.3L1755.4 3574.3L1739.6 3601.9z"/>
<path d="M1727.4 3563.6L1759 3563.6L1743.2 3591.2z"/>
<path d="M1730.2 3553.4L1761.8 3553.4L1746 3581z"/>
<path d="M1733.2 3541.9L1764.8 3541.9L1749 3569.5z"/>
<path d="M1735.3 3529.7L1766.9 3529.7L1751.1 3557.3z"/>
<path d="M1737 3510.1L1768.6 3510.1L1752.8 3537.7z"/>
<path d="M1737 3510.1L1768.6 3510.1L1752.8 3537.7z"/>
<path d="M1719.2 3536.1L1750.8 3536.1L1735 3563.7z"/>
<path d="M1703.9 3564.1L1735.5 3564.1L1719.7 3591.7z"/>
<path d="M1684.3 3589.1L1715.9 3589.1L1700.1 3616.7z"/>
<path d="M1665.2 3609.5L1696.8 3609.5L1681 3637.1z"/>
<path d="M1655.5 3617.9L1687.1 3617.9L1671.3 3645.5z"/>
<path d="M1639.7 3628.6L1671.3 3628.6L1655.5 3656.2z"/>
<path d="M1623.6 3637L1655.2 3637L1639.4 3664.6z"/>
<path d="M1608.3 3644.6L1639.9 3644.6L1624.1 3672.2z"/>
<path d="M1593 3651.5L1624.6 3651.5L1608.8 3679.1z"/>
<path d="M1577.5 3657.5L1609.1 3657.5L1593.3 3685.1z"/>
<path d="M1537.2 3671.8L1568.8 3671.8L1553 3699.4z"/>
<path d="M1475.1 3690L1506.7 3690L1490.9 3717.6z"/>
<path d="M1414.6 3700.3L1446.2 3700.3L1430.4 3727.9z"/>
<path d="M1354.4 3707.7L1386 3707.7L1370.2 3735.3z"/>
<path d="M1293.9 3713.9L1325.5 3713.9L1309.7 3741.5z"/>
<path d="M1232.6 3718.9L1264.2 3718.9L1248.4 3746.5z"/>
<path d="M1171.7 3723.6L1203.3 3723.6L1187.5 3751.2z"/>
<path d="M1111.7 3727.8L1143.3 3727.8L1127.5 3755.4z"/>
<path d="M1050.7 3732.3L1082.3 3732.3L1066.5 3759.9z"/>
<path d="M990.2 3736.8L1021.8 3736.8L1006 3764.4z"/>
<path d="M925.7 3770.8L957.3 3770.8L941.5 3798.4z"/>
<path d="M861.7 3779.3L893.3 3779.3L877.5 3806.9z"/>
<path d="M781.7 3786.8L813.3 3786.8L797.5 3814.4z"/>
<path d="M718.2 3790.8L749.8 3790.8L734 3818.4z"/>
<path d="M686.2 3793.3L717.8 3793.3L702 3820.9z"/>
<path d="M611.2 3798.8L642.8 3798.8L627 3826.4z"/>
<path d="M535.7 3805.3L567.3 3805.3L551.5 3832.9z"/>
<path d="M461.7 3812.3L493.3 3812.3L477.5 3839.9z"/>
<path d="M384.7 3822.3L416.3 3822.3L400.5 3849.9z"/>
</g>
</g>
<rect x="172.5" y="3341.3" width="1662.0" height="1237.1999999999998" fill="none" stroke="#000" stroke-width="4.9"/>
<path d="M248.4 4578.5V4602M399.5 4578.5V4591M550.6 4578.5V4602M701.7 4578.5V4591M852.8 4578.5V4602M1003.9 4578.5V4591M1155.1 4578.5V4602M1306.2 4578.5V4591M1457.3 4578.5V4602M1608.4 4578.5V4591M1759.5 4578.5V4602" stroke="#000" stroke-width="5" fill="none"/>
<g font-family="'Liberation Sans', Arial, sans-serif" font-size="45" text-anchor="middle" fill="#000">
<text transform="translate(247.4 4653) scale(1 1.075)">0.0</text>
<text transform="translate(549.6 4653) scale(1 1.075)">0.2</text>
<text transform="translate(851.8 4653) scale(1 1.075)">0.4</text>
<text transform="translate(1154.1 4653) scale(1 1.075)">0.6</text>
<text transform="translate(1456.3 4653) scale(1 1.075)">0.8</text>
<text transform="translate(1758.5 4653) scale(1 1.075)">1.0</text>
</g>
<text transform="translate(699.5 4744.3) scale(1 1.02)" font-family="'Liberation Sans', Arial, sans-serif" font-size="56.2" fill="#000">Realtive Pressure (P/P<tspan font-size="33.7" dx="0.5" dy="20.8">0</tspan><tspan dx="2.5" dy="-20.8">)</tspan></text>
<text transform="translate(89 4404.2) rotate(-90) scale(1 1.05)" font-family="'Liberation Sans', Arial, sans-serif" font-size="55.5" fill="#000"><tspan letter-spacing="0.3">Quantity</tspan> <tspan dx="2.5" letter-spacing="0.4">Adsorbed</tspan> <tspan letter-spacing="0.5">(cm</tspan><tspan font-size="33.3" dx="1.5" dy="-28.3">3</tspan><tspan dy="28.3">/g <tspan dx="1" letter-spacing="0.5">STP)</tspan></tspan></text>
<g fill="#000"><text x="934" y="3489.5" font-family="'Liberation Serif', 'Noto Serif CJK SC', serif" font-size="46">（</text><text x="987.5" y="3493.5" font-family="'Liberation Sans', Arial, sans-serif" font-size="55.5" transform="translate(987.5 0) scale(1.0 1) translate(-987.5 0)">c</text><text x="1022" y="3489.5" font-family="'Liberation Serif', 'Noto Serif CJK SC', serif" font-size="46">）</text></g>
<rect x="317.3" y="3417.3" width="444.99999999999994" height="274.1999999999998" fill="#fff" stroke="#000" stroke-width="1.5"/>
<path d="M325.7 3451.3H450.7" stroke="#ff00ff" stroke-width="1.5"/>
<g fill="#ff00ff"><path d="M372.4 3442.1L404 3442.1L388.2 3469.7z"/></g>
<text transform="translate(464.5 3470.6) scale(1 1.03)" font-family="'Liberation Sans', Arial, sans-serif" font-size="56" fill="#000">MRBC-3h</text>
<path d="M325.7 3521.4H450.7" stroke="#0000ff" stroke-width="1.5"/>
<g fill="#0000ff"><path d="M372.4 3530.6L404 3530.6L388.2 3503z"/></g>
<text transform="translate(464.5 3540.7) scale(1 1.03)" font-family="'Liberation Sans', Arial, sans-serif" font-size="56" fill="#000">MRBC-2h</text>
<path d="M325.7 3591H450.7" stroke="#ff0000" stroke-width="1.5"/>
<g fill="#ff0000"><circle cx="388.2" cy="3591" r="12.7"/></g>
<text transform="translate(464.5 3610.3) scale(1 1.03)" font-family="'Liberation Sans', Arial, sans-serif" font-size="56" fill="#000">MRBC-1h</text>
<path d="M325.7 3659.6H450.7" stroke="#000000" stroke-width="1.5"/>
<g fill="#000000"><rect x="376.7" y="3648.1" width="23.0" height="23.0"/></g>
<text transform="translate(464.5 3678.9) scale(1 1.03)" font-family="'Liberation Sans', Arial, sans-serif" font-size="56" fill="#000">MRBC-0.5h</text>
</svg>
</body></html>
